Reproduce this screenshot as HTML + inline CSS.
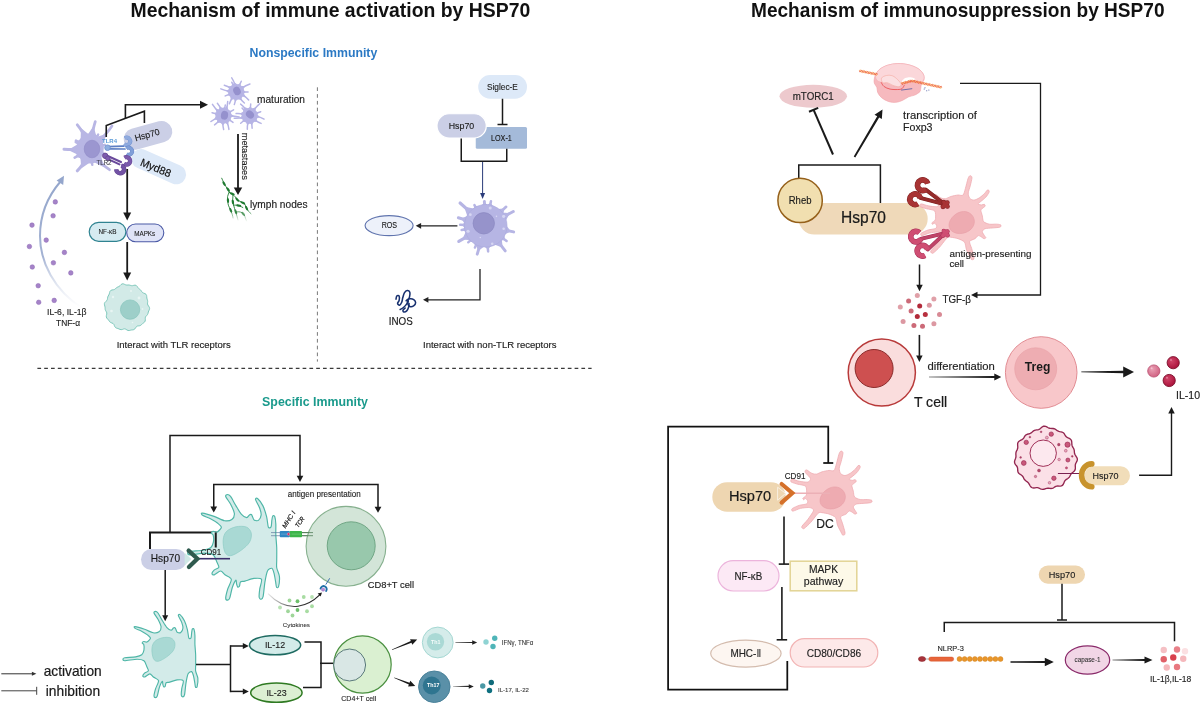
<!DOCTYPE html>
<html lang="en"><head><meta charset="utf-8"><title>HSP70 immune mechanisms</title>
<style>
html,body{margin:0;padding:0;background:#fff;}
body{width:1200px;height:704px;overflow:hidden;}
svg{display:block;font-family:"Liberation Sans","DejaVu Sans",sans-serif;will-change:transform;}
text[font-weight=bold]{stroke:none;}
</style></head><body>
<svg width="1200" height="704" viewBox="0 0 1200 704">
<rect width="1200" height="704" fill="#ffffff"/>
<text x="130.5" y="16.8" font-size="19.97" font-weight="bold" fill="#111" textLength="399.7" lengthAdjust="spacingAndGlyphs">Mechanism of immune activation by HSP70</text>
<text x="751" y="16.8" font-size="19.65" font-weight="bold" fill="#111" textLength="413.5" lengthAdjust="spacingAndGlyphs">Mechanism of immunosuppression by HSP70</text>
<text x="249.5" y="57" font-size="12.67" font-weight="bold" fill="#2b79c4" textLength="127.8" lengthAdjust="spacingAndGlyphs">Nonspecific Immunity</text>
<text x="262.1" y="406.2" font-size="12.75" font-weight="bold" fill="#1a9a8c" textLength="105.9" lengthAdjust="spacingAndGlyphs">Specific Immunity</text>
<path d="M317.4 87.3L317.4 361.6" fill="none" stroke="#6a6a6a" stroke-width="0.9" stroke-dasharray="3.7 3.1"/>
<path d="M37.4 368.4L591.6 368.4" fill="none" stroke="#3a3a3a" stroke-width="1.2" stroke-dasharray="3.7 3.1"/>
<defs><linearGradient id="gfade" gradientUnits="userSpaceOnUse" x1="0" y1="180" x2="0" y2="308"><stop offset="0" stop-color="#94a6cc"/><stop offset="0.6" stop-color="#a3b2d3"/><stop offset="1" stop-color="#d5dcec" stop-opacity="0"/></linearGradient></defs>
<path d="M82 308C54 290 40 262 40 236C40 214 48 196 60.5 181.5" fill="none" stroke="url(#gfade)" stroke-width="2"/>
<polygon points="64,175.8 63.2,185 56.6,180.6" fill="#94a6cc"/>
<circle cx="55.3" cy="201.9" r="2.3" fill="#a583c8" stroke="#8d69b5" stroke-width="0.5"/>
<circle cx="53.1" cy="215.8" r="2.3" fill="#a583c8" stroke="#8d69b5" stroke-width="0.5"/>
<circle cx="32" cy="225.1" r="2.3" fill="#a583c8" stroke="#8d69b5" stroke-width="0.5"/>
<circle cx="46.2" cy="240.1" r="2.3" fill="#a583c8" stroke="#8d69b5" stroke-width="0.5"/>
<circle cx="29.4" cy="246.5" r="2.3" fill="#a583c8" stroke="#8d69b5" stroke-width="0.5"/>
<circle cx="64.4" cy="252.4" r="2.3" fill="#a583c8" stroke="#8d69b5" stroke-width="0.5"/>
<circle cx="53.4" cy="262.8" r="2.3" fill="#a583c8" stroke="#8d69b5" stroke-width="0.5"/>
<circle cx="32.3" cy="267" r="2.3" fill="#a583c8" stroke="#8d69b5" stroke-width="0.5"/>
<circle cx="70.8" cy="272.9" r="2.3" fill="#a583c8" stroke="#8d69b5" stroke-width="0.5"/>
<circle cx="38.2" cy="285.7" r="2.3" fill="#a583c8" stroke="#8d69b5" stroke-width="0.5"/>
<circle cx="38.7" cy="302.3" r="2.3" fill="#a583c8" stroke="#8d69b5" stroke-width="0.5"/>
<circle cx="54.2" cy="300.4" r="2.3" fill="#a583c8" stroke="#8d69b5" stroke-width="0.5"/>
<text x="66.8" y="314.8" font-size="8.85" text-anchor="middle" fill="#222" stroke="#222" stroke-width="0.13" textLength="39.5" lengthAdjust="spacingAndGlyphs">IL-6, IL-1β</text>
<text x="68" y="325.6" font-size="8.76" text-anchor="middle" fill="#222" stroke="#222" stroke-width="0.13" textLength="24" lengthAdjust="spacingAndGlyphs">TNF-α</text>
<path d="M86.59 140.31Q82.02 130.39 77.3 124.87" fill="none" stroke="#b8b6e4" stroke-width="2.9" stroke-linecap="round"/>
<path d="M91.27 139.74Q93.09 128.69 95.27 121.66" fill="none" stroke="#b8b6e4" stroke-width="2.8" stroke-linecap="round"/>
<path d="M96.97 142.9Q106.72 133.96 111.99 125.98" fill="none" stroke="#b8b6e4" stroke-width="2.7" stroke-linecap="round"/>
<path d="M80.92 149.38Q70.53 149.86 64 149.2" fill="none" stroke="#b8b6e4" stroke-width="3" stroke-linecap="round"/>
<path d="M86.59 157.19Q82.17 166.34 77.25 170.83" fill="none" stroke="#b8b6e4" stroke-width="3" stroke-linecap="round"/>
<path d="M95.22 156.2Q102.52 165.36 109.51 169.67" fill="none" stroke="#b8b6e4" stroke-width="2.8" stroke-linecap="round"/>
<path d="M82.12 144.2Q77.36 141.45 75.97 140.65" fill="none" stroke="#b8b6e4" stroke-width="2.6" stroke-linecap="round"/>
<path d="M82.12 153.3Q76.71 156.43 74.67 157.6" fill="none" stroke="#b8b6e4" stroke-width="2.6" stroke-linecap="round"/>
<path d="M94.55 140.87Q97.33 136.06 98.15 134.63" fill="none" stroke="#b8b6e4" stroke-width="2.4" stroke-linecap="round"/>
<path d="M91.27 157.76Q92.04 163.26 92.27 164.89" fill="none" stroke="#b8b6e4" stroke-width="2.4" stroke-linecap="round"/>
<path d="M98.55 151.86Q103.3 153.59 104.38 153.98" fill="none" stroke="#b8b6e4" stroke-width="2.4" stroke-linecap="round"/>
<path d="M98.79 146.39Q103.67 145.09 104.78 144.79" fill="none" stroke="#b8b6e4" stroke-width="2.4" stroke-linecap="round"/>
<path d="M81.75 144.9Q76.99 142.69 75.77 142.11" fill="none" stroke="#b8b6e4" stroke-width="2.6" stroke-linecap="round"/>
<path d="M90.41 135.68L80.95 127.94L80.63 139.64ZM96.71 137.62L93.51 125.94L86.62 136.2ZM102.32 144.83L107.18 133.55L96 137.3ZM77.69 144.14L68.07 150L78.45 155.03ZM80.46 157.79L81.2 168.51L90.58 161.88ZM92.69 161.47L104.02 167.36L101.03 155.62ZM82.01 138.67L76.83 141.15L77.28 146.87ZM77.28 150.63L75.93 156.87L82.01 158.83ZM99.76 140.58L97.64 135.52L92.2 136.21ZM87.34 161.2L92.13 163.88L95.99 159.99ZM99.74 156.95L103.71 153.74L102.73 148.74ZM102.68 149.87L104.09 144.97L100.42 141.44ZM81.16 139.41L76.53 142.47L77.16 147.98Z" fill="#b8b6e4"/>
<circle cx="90" cy="148.75" r="13" fill="#b8b6e4"/>
<ellipse cx="90.3" cy="148.6" rx="13.4" ry="15" fill="#b8b6e4"/>
<ellipse cx="92" cy="149" rx="7.8" ry="8.8" fill="#9b96d0" stroke="#8f8ac6" stroke-width="0.6"/>
<g transform="rotate(-15.3 148 135.4)">
<rect x="123.2" y="124.7" width="49.6" height="21.4" rx="10.7" fill="#cbcfe6"/>
</g>
<g transform="rotate(24 158.7 166.7)">
<rect x="129.7" y="156.9" width="58" height="19.6" rx="9.8" fill="#dde9f8"/>
</g>
<text x="147.2" y="138" font-size="8.94" text-anchor="middle" fill="#1a1a1a" stroke="#1a1a1a" stroke-width="0.13" textLength="25.5" lengthAdjust="spacingAndGlyphs" transform="rotate(-15.5 147.2 134.9)">Hsp70</text>
<text x="155.8" y="171.6" font-size="10.88" text-anchor="middle" fill="#111" stroke="#111" stroke-width="0.16" textLength="32.2" lengthAdjust="spacingAndGlyphs" transform="rotate(22.3 155.8 167.8)">Myd88</text>
<path d="M108 146.7L123.5 146.2M108.5 148.9L125 149" stroke="#5f80c4" stroke-width="1.7" fill="none" stroke-linecap="round"/>
<circle cx="107.5" cy="147.7" r="2.8" fill="#8faee0" stroke="#6d8fce" stroke-width="0.8"/>
<path d="M124.8 138.08A3.6 3.6 0 1 1 124.29 143.96" stroke="#6f8fd0" stroke-width="3.9" fill="none" stroke-linecap="butt"/>
<path d="M124.69 138.15A3.6 3.6 0 1 1 124.19 143.88" stroke="#8faade" stroke-width="3.1" fill="none" stroke-linecap="butt"/>
<path d="M126.49 148.4A3.5 3.5 0 1 1 126.69 154.14" stroke="#6485c8" stroke-width="3.9" fill="none" stroke-linecap="butt"/>
<path d="M126.4 148.48A3.5 3.5 0 1 1 126.59 154.07" stroke="#809fd8" stroke-width="3.1" fill="none" stroke-linecap="butt"/>
<path d="M105.5 155L121 162M104.8 157.6L119.5 164.4" stroke="#6a4a9c" stroke-width="2" fill="none" stroke-linecap="round"/>
<circle cx="105.2" cy="155.8" r="2.7" fill="#7d5cae" stroke="#64448f" stroke-width="0.8"/>
<circle cx="107.8" cy="158.3" r="2.3" fill="#7d5cae" stroke="#64448f" stroke-width="0.6"/>
<path d="M124.55 157.7A3.7 3.7 0 1 1 124.02 163.73" stroke="#64448f" stroke-width="4.3" fill="none" stroke-linecap="butt"/>
<path d="M124.44 157.76A3.7 3.7 0 1 1 123.92 163.65" stroke="#7a5aac" stroke-width="3.5" fill="none" stroke-linecap="butt"/>
<path d="M121.34 165.57A3.9 3.9 0 1 1 116.31 169.5" stroke="#5f408a" stroke-width="4.5" fill="none" stroke-linecap="butt"/>
<path d="M121.21 165.53A3.9 3.9 0 1 1 116.3 169.37" stroke="#7252a4" stroke-width="3.7" fill="none" stroke-linecap="butt"/>
<text x="102" y="142.5" font-size="6.18" font-weight="bold" fill="#5b9bd8" textLength="15" lengthAdjust="spacingAndGlyphs">TLR4</text>
<text x="96.5" y="164.5" font-size="6.46" fill="#3a3a44" stroke="#3a3a44" stroke-width="0.09" textLength="15" lengthAdjust="spacingAndGlyphs">TLR2</text>
<path d="M106.25 137L106.25 125.6L144.4 111.25L144.4 123" fill="none" stroke="#1a1a1a" stroke-width="1.6"/>
<path d="M125.4 118.3L125.4 104.75L200.5 104.75" fill="none" stroke="#1a1a1a" stroke-width="1.6"/>
<polygon points="208,104.75 200,108.75 200,100.75" fill="#1a1a1a"/>
<path d="M127.2 169L127.2 213.1" fill="none" stroke="#1a1a1a" stroke-width="1.8"/>
<polygon points="127.2,220.6 123.2,212.6 131.2,212.6" fill="#1a1a1a"/>
<path d="M127.2 242L127.2 273" fill="none" stroke="#1a1a1a" stroke-width="1.8"/>
<polygon points="127.2,280.5 123.2,272.5 131.2,272.5" fill="#1a1a1a"/>
<rect x="89.2" y="222.4" width="36.7" height="18.9" rx="9.45" fill="#d6ebf1" stroke="#2f8391" stroke-width="1.2"/>
<rect x="126.7" y="224" width="37.1" height="17.7" rx="8.85" fill="#e0e4f7" stroke="#4b5aa6" stroke-width="1.1"/>
<text x="107.5" y="234.3" font-size="6.62" text-anchor="middle" fill="#222" stroke="#222" stroke-width="0.1" textLength="18" lengthAdjust="spacingAndGlyphs">NF-κB</text>
<text x="144.7" y="235.6" font-size="6.65" text-anchor="middle" fill="#222" stroke="#222" stroke-width="0.1" textLength="21" lengthAdjust="spacingAndGlyphs">MAPKs</text>
<path d="M149.37 307.3L149.62 308.55L149.3 309.76L148.74 310.92L148.32 312.06L148.05 313.23L147.64 314.35L146.89 315.33L146.02 316.2L145.42 317.17L145.27 318.39L145.33 319.81L145.12 321.15L144.45 322.16L143.48 322.91L142.52 323.64L141.68 324.47L140.8 325.26L139.71 325.74L138.45 325.9L137.27 326.09L136.36 326.71L135.62 327.78L134.83 328.9L133.84 329.62L132.69 329.88L131.51 329.99L130.37 330.24L129.23 330.52L128.06 330.47L126.9 329.94L125.8 329.21L124.74 328.82L123.61 328.99L122.4 329.45L121.17 329.67L120.02 329.43L118.96 328.93L117.87 328.51L116.72 328.19L115.65 327.68L114.84 326.72L114.31 325.43L113.79 324.23L113 323.44L111.89 323L110.72 322.54L109.78 321.8L109.08 320.84L108.4 319.87L107.55 318.98L106.73 318.05L106.29 316.9L106.39 315.53L106.73 314.15L106.8 312.93L106.39 311.86L105.74 310.81L105.26 309.68L105.11 308.49L105.06 307.3L104.82 306.09L104.46 304.83L104.39 303.57L104.92 302.41L105.9 301.42L106.85 300.49L107.37 299.46L107.54 298.28L107.73 297.08L108.18 296L108.79 295L109.28 293.91L109.58 292.63L109.97 291.36L110.77 290.43L111.99 289.98L113.34 289.79L114.5 289.45L115.39 288.77L116.21 287.94L117.15 287.29L118.2 286.86L119.22 286.36L120.14 285.55L121.07 284.56L122.14 283.87L123.35 283.85L124.6 284.36L125.78 284.9L126.9 285.08L128.02 285L129.14 285.01L130.23 285.3L131.3 285.63L132.44 285.66L133.72 285.36L135.04 285.13L136.21 285.43L137.11 286.34L137.84 287.49L138.61 288.44L139.52 289.14L140.43 289.82L141.18 290.71L141.8 291.72L142.55 292.56L143.64 293.13L144.93 293.6L146.02 294.31L146.59 295.41L146.74 296.73L146.83 298.02L147.13 299.18L147.52 300.29L147.7 301.47L147.59 302.7L147.52 303.88L147.85 305L148.62 306.11Z" fill="#d2eae7" stroke="#7fc9bc" stroke-width="1"/>
<circle cx="130.1" cy="309.6" r="9.7" fill="#9dcfc9" stroke="#86c4bb" stroke-width="0.7"/>
<circle cx="113" cy="297" r="1.2" fill="#e8f5f3"/>
<circle cx="139" cy="298" r="1.4" fill="#e8f5f3"/>
<circle cx="111.5" cy="311" r="1.3" fill="#e8f5f3"/>
<circle cx="131" cy="291" r="1" fill="#e8f5f3"/>
<circle cx="142.5" cy="309" r="0.9" fill="#e8f5f3"/>
<circle cx="132.5" cy="322.5" r="0.8" fill="#e8f5f3"/>
<text x="116.7" y="347.7" font-size="9.61" fill="#222" stroke="#222" stroke-width="0.14" textLength="114" lengthAdjust="spacingAndGlyphs">Interact with TLR receptors</text>
<path d="M235.33 86.39Q233.94 80.77 231.74 77.87" fill="none" stroke="#b6b4e5" stroke-width="1.5" stroke-linecap="round"/>
<path d="M238.67 86.82Q240.47 82.95 241.27 81.25" fill="none" stroke="#b6b4e5" stroke-width="1.5" stroke-linecap="round"/>
<path d="M240.89 88.69Q246.17 85.3 249.94 84.03" fill="none" stroke="#b6b4e5" stroke-width="1.5" stroke-linecap="round"/>
<path d="M241.9 91.9Q246.18 91.9 248.05 91.9" fill="none" stroke="#b6b4e5" stroke-width="1.5" stroke-linecap="round"/>
<path d="M241.38 94.27Q246.44 97.06 248.67 99.93" fill="none" stroke="#b6b4e5" stroke-width="1.5" stroke-linecap="round"/>
<path d="M239.1 96.75Q241.98 101.17 244.38 103.02" fill="none" stroke="#b6b4e5" stroke-width="1.5" stroke-linecap="round"/>
<path d="M235.81 97.48Q235.22 102.22 234.31 104.49" fill="none" stroke="#b6b4e5" stroke-width="1.5" stroke-linecap="round"/>
<path d="M233.09 96.49Q230.26 100.94 229.43 103.81" fill="none" stroke="#b6b4e5" stroke-width="1.5" stroke-linecap="round"/>
<path d="M231.04 93.82Q227.02 95.28 225.26 95.92" fill="none" stroke="#b6b4e5" stroke-width="1.5" stroke-linecap="round"/>
<path d="M230.72 91.41Q224.5 90.56 220.84 88.89" fill="none" stroke="#b6b4e5" stroke-width="1.5" stroke-linecap="round"/>
<path d="M231.71 88.69Q227.23 85.9 224.27 85.23" fill="none" stroke="#b6b4e5" stroke-width="1.5" stroke-linecap="round"/>
<path d="M233.93 86.82Q232.34 83.4 231.76 82.16" fill="none" stroke="#b6b4e5" stroke-width="1.5" stroke-linecap="round"/>
<path d="M237 84.3L234.17 81.9L233.04 85ZM241.23 86.08L240.2 83.53L237.59 84.38ZM243.48 89.32L245.08 86.03L241.18 86.03ZM243.66 93.91L245.54 91.9L243.66 89.89ZM242.12 96.83L245.41 96.54L243.82 93.19ZM238.24 99.28L241.47 100.34L241.72 97.27ZM233.66 99.06L235.3 101.42L237.66 99.41ZM230.43 96.78L230.8 100.13L233.72 99.08ZM228.7 92.53L227.62 95.06L230.07 96.31ZM229.14 89.26L225.81 90.7L228.79 93.26ZM231.42 86.03L228.05 86.44L229.12 89.32ZM235.01 84.38L232.54 83.83L231.37 86.08Z" fill="#b6b4e5"/>
<circle cx="236.3" cy="91.9" r="8" fill="#b6b4e5"/>
<ellipse cx="237.3" cy="91.3" rx="3.6" ry="4.4" fill="#9591cd" transform="rotate(-25 236.3 91.9)"/>
<path d="M225.77 110.62Q227.84 105.23 227.71 101.59" fill="none" stroke="#b6b4e5" stroke-width="1.5" stroke-linecap="round"/>
<path d="M228.25 112.9Q231.95 110.76 233.58 109.83" fill="none" stroke="#b6b4e5" stroke-width="1.5" stroke-linecap="round"/>
<path d="M229 115.7Q235.27 115.96 239.09 117.07" fill="none" stroke="#b6b4e5" stroke-width="1.5" stroke-linecap="round"/>
<path d="M227.99 118.91Q231.49 121.36 233.03 122.44" fill="none" stroke="#b6b4e5" stroke-width="1.5" stroke-linecap="round"/>
<path d="M226.2 120.55Q228.74 125.74 228.93 129.38" fill="none" stroke="#b6b4e5" stroke-width="1.5" stroke-linecap="round"/>
<path d="M222.91 121.28Q222.74 126.55 223.64 129.45" fill="none" stroke="#b6b4e5" stroke-width="1.5" stroke-linecap="round"/>
<path d="M219.8 119.99Q216.59 123.53 214.54 124.87" fill="none" stroke="#b6b4e5" stroke-width="1.5" stroke-linecap="round"/>
<path d="M218.14 117.62Q213.26 119.64 210.94 121.51" fill="none" stroke="#b6b4e5" stroke-width="1.5" stroke-linecap="round"/>
<path d="M217.99 114.25Q213.86 113.14 212.05 112.66" fill="none" stroke="#b6b4e5" stroke-width="1.5" stroke-linecap="round"/>
<path d="M219.11 112.1Q214.51 107.83 212.46 104.37" fill="none" stroke="#b6b4e5" stroke-width="1.5" stroke-linecap="round"/>
<path d="M221.48 110.44Q219.41 105.58 217.37 103.34" fill="none" stroke="#b6b4e5" stroke-width="1.5" stroke-linecap="round"/>
<path d="M224.37 110.19Q225.03 106.47 225.27 105.11" fill="none" stroke="#b6b4e5" stroke-width="1.5" stroke-linecap="round"/>
<path d="M228.33 109.88L227.4 106.29L224.69 108.18ZM230.78 113.76L231.4 111.08L228.77 110.28ZM230.76 117.71L233.95 115.93L230.76 113.69ZM228.28 121.57L230.97 121L230.58 118.28ZM225.34 123.08L228.2 124.73L228.82 121.07ZM220.76 122.86L222.8 125.58L224.76 123.21ZM217.13 120.05L217.12 122.92L220.21 122.63ZM215.8 116.33L214.18 119.29L217.17 120.11ZM216.81 111.85L214.48 113.31L215.77 115.74ZM219.05 109.43L215.49 108.7L216.47 112.51ZM222.77 108.1L219.77 106.49L218.99 109.47ZM226.66 108.8L224.95 106.93L222.7 108.1Z" fill="#b6b4e5"/>
<circle cx="223.4" cy="115.7" r="8" fill="#b6b4e5"/>
<ellipse cx="224.4" cy="115.1" rx="3.6" ry="4.4" fill="#9591cd" transform="rotate(10 223.4 115.7)"/>
<path d="M246.9 110.85Q243.67 106.05 240.62 104.08" fill="none" stroke="#b6b4e5" stroke-width="1.5" stroke-linecap="round"/>
<path d="M250.19 110.12Q250.56 105.86 250.72 103.99" fill="none" stroke="#b6b4e5" stroke-width="1.5" stroke-linecap="round"/>
<path d="M252.91 111.11Q256.72 106.12 259.82 103.63" fill="none" stroke="#b6b4e5" stroke-width="1.5" stroke-linecap="round"/>
<path d="M254.96 113.78Q258.98 112.32 260.74 111.68" fill="none" stroke="#b6b4e5" stroke-width="1.5" stroke-linecap="round"/>
<path d="M255.28 116.19Q260.99 117.09 264.07 119.02" fill="none" stroke="#b6b4e5" stroke-width="1.5" stroke-linecap="round"/>
<path d="M253.99 119.3Q258.21 122.47 261.1 123.39" fill="none" stroke="#b6b4e5" stroke-width="1.5" stroke-linecap="round"/>
<path d="M251.15 121.11Q252.21 125.77 252.13 128.22" fill="none" stroke="#b6b4e5" stroke-width="1.5" stroke-linecap="round"/>
<path d="M248.25 121.11Q247.12 126.26 247.31 129.24" fill="none" stroke="#b6b4e5" stroke-width="1.5" stroke-linecap="round"/>
<path d="M245.41 119.3Q242.14 122.05 240.7 123.25" fill="none" stroke="#b6b4e5" stroke-width="1.5" stroke-linecap="round"/>
<path d="M244.29 117.15Q238.15 118.47 234.14 118.16" fill="none" stroke="#b6b4e5" stroke-width="1.5" stroke-linecap="round"/>
<path d="M244.29 114.25Q239.13 113.16 236.12 113.55" fill="none" stroke="#b6b4e5" stroke-width="1.5" stroke-linecap="round"/>
<path d="M245.74 111.74Q243.07 109.07 242.1 108.1" fill="none" stroke="#b6b4e5" stroke-width="1.5" stroke-linecap="round"/>
<path d="M247.76 108.32L244.28 107.03L244.28 110.33ZM252.34 108.54L250.51 106.5L248.34 108.19ZM255.57 110.82L255.94 107.19L252.28 108.52ZM257.3 115.07L258.38 112.54L255.93 111.29ZM256.86 118.34L259.85 116.95L257.21 114.34ZM254.05 121.97L257.45 121.86L256.63 118.89ZM249.66 123.33L252.01 124.98L253.55 122.29ZM245.85 122.29L247.35 125.31L249.74 123.33ZM242.77 118.89L242.62 121.64L245.35 121.97ZM242.07 115.66L239.43 118.16L243.11 119.55ZM243.11 111.85L240.08 113.39L242.07 115.74ZM245.92 109.07L243.4 109.4L243.07 111.92Z" fill="#b6b4e5"/>
<circle cx="249.7" cy="115.7" r="8" fill="#b6b4e5"/>
<ellipse cx="250.7" cy="115.1" rx="3.6" ry="4.4" fill="#9591cd" transform="rotate(-45 249.7 115.7)"/>
<text x="257" y="102.6" font-size="10.16" fill="#222" stroke="#222" stroke-width="0.15" textLength="48" lengthAdjust="spacingAndGlyphs">maturation</text>
<path d="M238 134L238 188" fill="none" stroke="#1a1a1a" stroke-width="1.8"/>
<polygon points="238,195 233.75,187.5 242.25,187.5" fill="#1a1a1a"/>
<text x="241.5" y="132.8" font-size="9.19" fill="#222" stroke="#222" stroke-width="0.13" textLength="47" lengthAdjust="spacingAndGlyphs" transform="rotate(90 241.5 132.8)">metastases</text>
<text x="250" y="207.5" font-size="10.14" fill="#222" stroke="#222" stroke-width="0.15" textLength="57.5" lengthAdjust="spacingAndGlyphs">lymph nodes</text>
<defs><linearGradient id="lfade" gradientUnits="userSpaceOnUse" x1="0" y1="178" x2="0" y2="222"><stop offset="0" stop-color="#1e7a30"/><stop offset="0.7" stop-color="#1e7a30"/><stop offset="1" stop-color="#1e7a30" stop-opacity="0"/></linearGradient></defs>
<path d="M221.72 178.2C222.17 179.18 223.48 182.24 224.45 184.06C225.43 185.89 226.73 187.71 227.58 189.14C228.42 190.57 229.21 192.07 229.53 192.66" fill="none" stroke="url(#lfade)" stroke-width="0.9" stroke-linecap="round"/>
<path d="M229.14 192.27C228.88 192.98 227.8 195.07 227.58 196.56C227.36 198.06 227.68 199.82 227.81 201.25C227.94 202.68 227.92 203.72 228.36 205.16C228.8 206.59 229.82 208.28 230.47 209.84C231.12 211.41 231.84 213.16 232.27 214.53C232.7 215.9 232.92 217.46 233.05 218.05" fill="none" stroke="url(#lfade)" stroke-width="0.9" stroke-linecap="round"/>
<path d="M229.53 192.66C230.05 192.92 232.11 193.31 232.66 194.22C233.2 195.13 232.81 196.95 232.81 198.12C232.81 199.3 232.49 199.95 232.66 201.25C232.83 202.55 233.37 204.24 233.83 205.94C234.28 207.63 234.87 209.71 235.39 211.41C235.91 213.1 236.52 214.66 236.95 216.09C237.38 217.53 237.8 219.35 237.97 220" fill="none" stroke="url(#lfade)" stroke-width="0.9" stroke-linecap="round"/>
<path d="M232.66 194.22C233.11 194.67 234.61 196.04 235.39 196.95C236.17 197.86 236.37 198.84 237.34 199.69C238.32 200.53 240.08 201.38 241.25 202.03C242.42 202.68 243.53 202.68 244.38 203.59C245.22 204.51 245.61 206.2 246.33 207.5C247.04 208.8 247.89 210.36 248.67 211.41C249.45 212.45 250.62 213.36 251.02 213.75" fill="none" stroke="url(#lfade)" stroke-width="0.9" stroke-linecap="round"/>
<path d="M233.44 205.16C233.96 205.16 235.59 205.05 236.56 205.16C237.54 205.26 238.26 205.39 239.3 205.78C240.34 206.17 242.23 207.21 242.81 207.5" fill="none" stroke="url(#lfade)" stroke-width="0.9" stroke-linecap="round"/>
<path d="M235.78 212.19C236.3 212.12 237.86 211.69 238.91 211.8C239.95 211.9 241.12 212.23 242.03 212.81C242.94 213.4 243.79 214.38 244.38 215.31C244.96 216.25 245.18 217.46 245.55 218.44C245.91 219.41 246.39 220.72 246.56 221.17" fill="none" stroke="url(#lfade)" stroke-width="0.9" stroke-linecap="round"/>
<ellipse cx="224.06" cy="183.67" rx="2.6" ry="1.15" fill="url(#lfade)" transform="rotate(60 224.06 183.67)"/>
<ellipse cx="228.12" cy="189.53" rx="2.6" ry="1.15" fill="url(#lfade)" transform="rotate(55 228.12 189.53)"/>
<ellipse cx="227.97" cy="200.47" rx="2.6" ry="1.15" fill="url(#lfade)" transform="rotate(85 227.97 200.47)"/>
<ellipse cx="230.7" cy="210.23" rx="2.6" ry="1.15" fill="url(#lfade)" transform="rotate(65 230.7 210.23)"/>
<ellipse cx="232.89" cy="202.03" rx="2.6" ry="1.15" fill="url(#lfade)" transform="rotate(80 232.89 202.03)"/>
<ellipse cx="235.78" cy="211.8" rx="2.6" ry="1.15" fill="url(#lfade)" transform="rotate(70 235.78 211.8)"/>
<ellipse cx="237.34" cy="199.69" rx="2.6" ry="1.15" fill="url(#lfade)" transform="rotate(45 237.34 199.69)"/>
<ellipse cx="242.81" cy="202.81" rx="2.6" ry="1.15" fill="url(#lfade)" transform="rotate(25 242.81 202.81)"/>
<ellipse cx="246.56" cy="208.12" rx="2.6" ry="1.15" fill="url(#lfade)" transform="rotate(65 246.56 208.12)"/>
<ellipse cx="238.75" cy="205.55" rx="2.6" ry="1.15" fill="url(#lfade)" transform="rotate(8 238.75 205.55)"/>
<ellipse cx="243.2" cy="213.91" rx="2.6" ry="1.15" fill="url(#lfade)" transform="rotate(50 243.2 213.91)"/>
<ellipse cx="232.27" cy="193.83" rx="2.6" ry="1.15" fill="url(#lfade)" transform="rotate(20 232.27 193.83)"/>
<rect x="478.25" y="75" width="48.75" height="23.75" rx="11.88" fill="#dde9f8"/>
<text x="502.4" y="89.7" font-size="8.42" text-anchor="middle" fill="#222" stroke="#222" stroke-width="0.12" textLength="30.8" lengthAdjust="spacingAndGlyphs">Siglec-E</text>
<path d="M502.5 98.75L502.5 124.5" fill="none" stroke="#1a1a1a" stroke-width="1.5"/>
<path d="M497.5 124.5L507.5 124.5" fill="none" stroke="#1a1a1a" stroke-width="1.5"/>
<rect x="475.75" y="127" width="51.25" height="21.75" rx="1.5" fill="#a4bad9"/>
<text x="501.4" y="140.5" font-size="8.2" text-anchor="middle" fill="#1a1a1a" stroke="#1a1a1a" stroke-width="0.12" textLength="20.8" lengthAdjust="spacingAndGlyphs">LOX-1</text>
<rect x="437" y="113.75" width="49.25" height="24.25" rx="12.12" fill="#cbcfe6" stroke="#ffffff" stroke-width="1.2"/>
<text x="461.5" y="129.3" font-size="8.94" text-anchor="middle" fill="#222" stroke="#222" stroke-width="0.13" textLength="25.5" lengthAdjust="spacingAndGlyphs">Hsp70</text>
<path d="M461.25 138.5L461.25 161.25L506.75 161.25L506.75 148.75" fill="none" stroke="#1a1a1a" stroke-width="1.5"/>
<path d="M482.6 162L482.6 193.4" fill="none" stroke="#2b3c7a" stroke-width="1"/>
<polygon points="482.6,198.9 480.1,192.9 485.1,192.9" fill="#2b3c7a"/>
<ellipse cx="389.1" cy="225.6" rx="24" ry="10" fill="#edf1fa" stroke="#6074ae" stroke-width="1.1"/>
<text x="389.4" y="228.2" font-size="8.3" text-anchor="middle" fill="#1a1a1a" stroke="#1a1a1a" stroke-width="0.12" textLength="15.4" lengthAdjust="spacingAndGlyphs">ROS</text>
<path d="M457.4 225.8L420.6 225.8" fill="none" stroke="#222" stroke-width="1.3"/>
<polygon points="415.7,225.8 421.1,222.95 421.1,228.65" fill="#222"/>
<path d="M474.61 215.88Q464.96 207.3 460.09 202.97" fill="none" stroke="#b6b5e4" stroke-width="3.14" stroke-linecap="round"/>
<path d="M478.62 212.7Q475 206.06 474.44 205.03" fill="none" stroke="#b6b5e4" stroke-width="2.55" stroke-linecap="round"/>
<path d="M484.9 210.9Q484.44 202.96 484.35 201.41" fill="none" stroke="#b6b5e4" stroke-width="2.94" stroke-linecap="round"/>
<path d="M488.84 211.2Q490.56 203.07 490.96 201.19" fill="none" stroke="#b6b5e4" stroke-width="2.55" stroke-linecap="round"/>
<path d="M496.67 215.63Q503.74 209.06 506.12 206.84" fill="none" stroke="#b6b5e4" stroke-width="2.74" stroke-linecap="round"/>
<path d="M499 218.94Q508.98 213.77 513.28 211.55" fill="none" stroke="#b6b5e4" stroke-width="2.94" stroke-linecap="round"/>
<path d="M500.32 228.99Q510.1 231.15 513.64 231.93" fill="none" stroke="#b6b5e4" stroke-width="2.94" stroke-linecap="round"/>
<path d="M497.81 234.55Q504.79 239.63 506.59 240.94" fill="none" stroke="#b6b5e4" stroke-width="2.55" stroke-linecap="round"/>
<path d="M494.88 237.58Q502.01 246.8 505.23 250.96" fill="none" stroke="#b6b5e4" stroke-width="2.94" stroke-linecap="round"/>
<path d="M487.13 240.63Q487.92 249.18 488.12 251.36" fill="none" stroke="#b6b5e4" stroke-width="2.55" stroke-linecap="round"/>
<path d="M481.47 240.07Q478.43 250.19 477.23 254.2" fill="none" stroke="#b6b5e4" stroke-width="2.94" stroke-linecap="round"/>
<path d="M479.09 239.12Q475.54 246.22 474.85 247.6" fill="none" stroke="#b6b5e4" stroke-width="2.35" stroke-linecap="round"/>
<path d="M474.92 236.03Q469.25 241.4 468.22 242.37" fill="none" stroke="#b6b5e4" stroke-width="2.35" stroke-linecap="round"/>
<path d="M472.85 233.26Q463.05 238.93 458.78 241.4" fill="none" stroke="#b6b5e4" stroke-width="3.14" stroke-linecap="round"/>
<path d="M471.07 228.38Q463.22 229.76 461.66 230.04" fill="none" stroke="#b6b5e4" stroke-width="2.55" stroke-linecap="round"/>
<path d="M470.86 225.23Q462.33 224.92 460.19 224.84" fill="none" stroke="#b6b5e4" stroke-width="2.55" stroke-linecap="round"/>
<path d="M471.45 221.59Q461.83 218.77 458.34 217.75" fill="none" stroke="#b6b5e4" stroke-width="2.94" stroke-linecap="round"/>
<path d="M474.65 208.78L463.99 206.44L467.57 216.75ZM480.17 206.51L474.88 205.86L472.57 210.66ZM489.62 205.93L484.42 202.65L479.64 206.51ZM494.05 207.51L490.64 202.69L485.57 205.72ZM503.28 215.85L504.21 208.61L496.93 209.02ZM505.46 221.22L509.84 213.33L500.86 212.34ZM503.82 234.88L510.81 231.31L505.97 225.12ZM499.06 240.81L505.15 239.89L504.15 233.81ZM493.79 244.34L502.66 247.63L501.7 238.23ZM483.25 245.7L487.96 249.61L491.88 244.9ZM475.34 243.12L478.19 250.99L484.91 245.99ZM473.42 241.52L475.4 246.49L480.57 245.1ZM468.77 236.35L469.04 241.59L474.27 242.16ZM466.13 230.99L462.2 239.42L471.47 240.22ZM465.7 224.93L462.91 229.82L467.21 233.46ZM466.33 220.73L461.9 224.9L466.01 229.39ZM468.36 215.48L461.13 218.57L465.54 225.07Z" fill="#b6b5e4"/>
<circle cx="485.76" cy="225.79" r="21.3" fill="#b6b5e4"/>
<circle cx="485.76" cy="225.79" r="21.3" fill="none" stroke="#aaa9dd" stroke-width="0.6"/>
<circle cx="483.77" cy="223.3" r="10.7" fill="#9693cb" stroke="#8b88c1" stroke-width="0.7"/>
<circle cx="490.23" cy="207.89" r="1.5" fill="#d6d6f2"/>
<circle cx="470.35" cy="214.65" r="1.4" fill="#d6d6f2"/>
<circle cx="503.65" cy="216.34" r="1.6" fill="#d6d6f2"/>
<circle cx="503.65" cy="228.77" r="1.3" fill="#d6d6f2"/>
<circle cx="468.06" cy="231.25" r="1.6" fill="#d6d6f2"/>
<circle cx="492.22" cy="243.68" r="1.3" fill="#d6d6f2"/>
<circle cx="480.29" cy="237.51" r="0.8" fill="#d6d6f2"/>
<circle cx="496.49" cy="216.34" r="0.8" fill="#d6d6f2"/>
<path d="M480 269L480 299.8L427.9 299.8" fill="none" stroke="#222" stroke-width="1.3"/>
<polygon points="423,299.8 428.4,296.95 428.4,302.65" fill="#222"/>
<path d="M396.02 299.14C396.15 298.62 396.28 296.54 396.8 296.02C397.32 295.49 398.75 295.3 399.14 296.02C399.53 296.73 399.4 299.08 399.14 300.31C398.88 301.55 397.51 302.63 397.58 303.44C397.64 304.24 398.84 305.35 399.53 305.16C400.22 304.96 401.17 303.53 401.72 302.27C402.27 301 402.37 299.14 402.81 297.58C403.26 296.02 403.65 294.06 404.38 292.89C405.1 291.72 406.28 290.64 407.19 290.55C408.1 290.46 409.45 291.3 409.84 292.34C410.23 293.39 409.84 295.4 409.53 296.8C409.22 298.19 408.49 299.44 407.97 300.7C407.45 301.97 407.16 303.24 406.41 304.38C405.65 305.51 404.48 306.64 403.44 307.5C402.4 308.36 400.7 309.19 400.16 309.53" fill="none" stroke="#17306f" stroke-width="1.55" stroke-linecap="round"/>
<path d="M406.17 300.7C406.41 300.34 408.42 298.95 409.69 298.75C410.95 298.55 412.76 298.85 413.75 299.53C414.74 300.21 415.65 301.74 415.62 302.81C415.6 303.88 414.56 305.31 413.59 305.94C412.63 306.56 410.81 306.91 409.84 306.56C408.88 306.21 408.07 304.77 407.81 303.83C407.55 302.89 408.55 301.46 408.28 300.94C408.01 300.42 405.94 301.07 406.17 300.7Z" fill="none" stroke="#17306f" stroke-width="1.55" stroke-linecap="round"/>
<path d="M409.06 303.44C408.98 304.09 408.98 306.11 408.59 307.34C408.2 308.58 407.5 310.08 406.72 310.86C405.94 311.64 404.53 312.15 403.91 312.03C403.28 311.91 402.76 310.83 402.97 310.16C403.18 309.48 404.79 308.33 405.16 307.97" fill="none" stroke="#17306f" stroke-width="1.55" stroke-linecap="round"/>
<text x="400.8" y="324.9" font-size="10.5" text-anchor="middle" fill="#1a1a1a" stroke="#1a1a1a" stroke-width="0.15" textLength="24" lengthAdjust="spacingAndGlyphs">INOS</text>
<text x="423" y="347.7" font-size="9.62" fill="#222" stroke="#222" stroke-width="0.14" textLength="133.5" lengthAdjust="spacingAndGlyphs">Interact with non-TLR receptors</text>
<path d="M170 532L170 435.5L300 435.5L300 476.2" fill="none" stroke="#1a1a1a" stroke-width="1.5"/>
<polygon points="300,481.9 296.7,475.7 303.3,475.7" fill="#1a1a1a"/>
<path d="M213.75 507L213.75 484.5L378 484.5L378 507" fill="none" stroke="#1a1a1a" stroke-width="1.5"/>
<polygon points="213.75,512.6 210.4,506.6 217.1,506.6" fill="#1a1a1a"/><polygon points="378,512.8 374.6,506.8 381.4,506.8" fill="#1a1a1a"/>
<text x="287.8" y="496.5" font-size="8.5" fill="#222" stroke="#222" stroke-width="0.12" textLength="72.9" lengthAdjust="spacingAndGlyphs">antigen presentation</text>
<path d="M150 549L150 532.5L215.75 532.5L215.75 547.5" fill="none" stroke="#1a1a1a" stroke-width="2"/>
<g transform="translate(226.8 495) scale(1.225) translate(-154.9 -611.8)"><path d="M134.94 626.59C136.26 626.71 142 628.38 144.54 629.25C147.09 630.12 151.08 632.44 153.11 632.79C155.14 633.14 157.9 632.58 159.02 631.76C160.13 630.93 161.21 628.6 161.09 626.88C160.96 625.17 159.12 621.44 158.13 619.5C157.14 617.55 154.37 614.14 154 613C153.62 611.86 154.91 611.37 155.47 611.37C156.03 611.37 157.01 611.7 157.98 613C158.96 614.3 161.19 618.67 162.42 620.68C163.64 622.69 165.48 625.98 166.7 627.33C167.92 628.67 170.2 630.18 171.13 630.28C172.06 630.38 172.81 628.42 173.35 628.06C173.88 627.71 174.6 627.54 174.97 627.77C175.34 628 175.69 629.07 176 629.69C176.31 630.31 176.52 631.81 177.19 632.2C177.85 632.59 179.92 633.08 180.73 632.5C181.54 631.92 182.82 629.51 182.95 628.06C183.07 626.62 182.26 623.89 181.62 622.16C180.98 620.42 178.6 616.71 178.37 615.66C178.14 614.6 179.14 613.92 179.99 614.62C180.84 615.33 183.39 618.59 184.42 620.68C185.46 622.77 186.76 627.1 187.38 629.54C188 631.98 188.34 636.97 188.86 638.11C189.37 639.25 190.68 638.45 191.07 637.67C191.46 636.88 191.48 633.72 191.66 632.5C191.85 631.28 192.07 629.39 192.4 628.95C192.73 628.52 193.67 628.48 194.03 629.39C194.38 630.3 194.79 633.36 194.91 635.45C195.04 637.54 194.81 641.62 194.91 644.31C195.01 647 195.55 651.76 195.65 654.65C195.75 657.55 195.65 662.68 195.65 664.99C195.65 667.31 195.34 669.34 195.65 671.2C195.96 673.06 197.66 676.14 197.87 678.29C198.07 680.44 197.46 685.32 197.13 686.56C196.8 687.8 195.83 687.69 195.5 687.15C195.17 686.61 195.05 684.33 194.76 682.72C194.47 681.1 193.87 677.18 193.43 675.63C193 674.08 192.41 671.89 191.66 671.64C190.92 671.39 188.9 672.3 188.12 673.86C187.33 675.41 186.55 679.82 186.05 682.72C185.55 685.61 185.01 692.55 184.57 694.53C184.14 696.52 183.4 696.79 182.95 696.9C182.49 697 181.49 696.43 181.32 695.27C181.16 694.12 181.5 690.67 181.77 688.63C182.03 686.58 183.9 681.87 183.24 680.65C182.58 679.43 178.94 679.7 177.04 679.91C175.14 680.12 171.18 681.73 169.65 682.13C168.12 682.52 166.73 682.14 166.11 682.72C165.49 683.3 165.55 685.68 165.22 686.26C164.89 686.84 164.08 687.12 163.74 686.85C163.41 686.58 163.06 685.11 162.86 684.34C162.65 683.58 162.74 681 162.27 681.39C161.79 681.78 160.16 685.1 159.46 687.15C158.76 689.2 157.78 694.54 157.25 696.01C156.71 697.48 156.08 697.64 155.62 697.64C155.17 697.64 154 697.27 154 696.01C154 694.75 154.98 690.78 155.62 688.63C156.26 686.48 158.88 682.28 158.57 680.65C158.26 679.02 154.62 677.91 153.4 676.96C152.18 676.01 151.08 673.86 149.86 673.86C148.64 673.86 145.68 676.65 144.69 676.96C143.7 677.27 142.79 676.61 142.77 676.07C142.75 675.53 143.76 673.84 144.54 673.12C145.33 672.39 148.07 671.83 148.38 670.9C148.69 669.97 147.38 667.9 146.76 666.47C146.14 665.04 145.3 661.72 143.95 660.71C142.61 659.7 139.84 659.23 137.16 659.23C134.47 659.23 126.73 660.73 124.75 660.71C122.76 660.69 122.98 659.5 122.98 659.08C122.98 658.67 122.97 658.06 124.75 657.75C126.53 657.44 133.3 657.28 135.68 656.87C138.06 656.45 140.58 655.73 141.74 654.8C142.89 653.87 143.66 651.65 143.95 650.22C144.24 648.79 144.05 645.62 143.8 644.61C143.56 643.6 142.18 643.42 142.18 642.98C142.18 642.55 143.14 641.63 143.8 641.51C144.47 641.38 145.97 642.55 146.91 642.1C147.84 641.64 150.37 639.27 150.45 638.26C150.53 637.24 148.74 635.85 147.5 634.86C146.26 633.87 143.32 632.08 141.59 631.17C139.85 630.26 136.02 629 135.09 628.36C134.16 627.72 133.62 626.46 134.94 626.59Z" fill="#d3ebe9" stroke="#4fb6a7" stroke-width="0.95" stroke-linejoin="round"/><path d="M151.93 648.74C152.12 645.94 152.86 643.48 154.59 641.65C156.31 639.83 159.56 638.43 162.27 637.81C164.98 637.2 168.74 637.12 170.83 637.96C172.93 638.8 174.38 640.79 174.82 642.84C175.27 644.88 174.85 647.88 173.49 650.22C172.14 652.56 169.26 655.02 166.7 656.87C164.14 658.71 160.35 661.03 158.13 661.3C155.92 661.57 154.44 660.59 153.4 658.49C152.37 656.4 151.73 651.55 151.93 648.74Z" fill="#a9d9d4" stroke="#8fcdc6" stroke-width="0.6"/></g>
<rect x="141" y="549" width="45.6" height="21" rx="10.5" fill="#cbcfe6"/>
<polygon points="184.6,552.8 191.4,558.9 184.6,565.4" fill="#cfe8e6"/>
<text x="165.4" y="562.2" font-size="10.28" text-anchor="middle" fill="#1a1a1a" stroke="#1a1a1a" stroke-width="0.15" textLength="29.3" lengthAdjust="spacingAndGlyphs">Hsp70</text>
<path d="M198 558.7L230 558.7" fill="none" stroke="#3b2f6b" stroke-width="1.6"/>
<path d="M188.6 550.6L197.4 558.7L188.9 567" fill="none" stroke="#2f5a4e" stroke-width="4.2" stroke-linecap="round" stroke-linejoin="miter"/>
<text x="200.8" y="555.2" font-size="8.26" fill="#1a1a1a" stroke="#1a1a1a" stroke-width="0.12" textLength="20.4" lengthAdjust="spacingAndGlyphs">CD91</text>
<path d="M215.75 532.5L215.75 547.5" fill="none" stroke="#1a1a1a" stroke-width="2"/>
<path d="M271 532.6L280 532.6" fill="none" stroke="#5a789c" stroke-width="0.7"/>
<path d="M271 535.7L280 535.7" fill="none" stroke="#5a789c" stroke-width="0.7"/>
<path d="M302 532.6L313 532.6" fill="none" stroke="#3f6f45" stroke-width="0.7"/>
<path d="M302 535.7L313 535.7" fill="none" stroke="#3f6f45" stroke-width="0.7"/>
<rect x="279.8" y="530.9" width="10" height="6.4" rx="0.8" fill="#2f86c2"/><rect x="289.6" y="530.9" width="12.4" height="6.4" rx="0.8" fill="#3db54a"/>
<path d="M281 534.1L287 534.1" fill="none" stroke="#7ab0d8" stroke-width="0.6"/>
<path d="M291.5 534.1L301 534.1" fill="none" stroke="#7fd088" stroke-width="0.6"/>
<circle cx="288.5" cy="534.1" r="1.3" fill="#e0245e" stroke="#f7c3d3" stroke-width="0.4"/>
<text x="285.6" y="528.8" font-size="6.4" font-style="italic" fill="#1a1a1a" stroke="#1a1a1a" stroke-width="0.22" textLength="19" lengthAdjust="spacingAndGlyphs" transform="rotate(-58 285.6 528.8)">MHC I</text>
<text x="298.2" y="528" font-size="6.4" font-style="italic" fill="#1a1a1a" stroke="#1a1a1a" stroke-width="0.22" textLength="11.4" lengthAdjust="spacingAndGlyphs" transform="rotate(-54 298.2 528)">TCR</text>
<circle cx="346" cy="546.3" r="39.9" fill="#d3e5d8" stroke="#86b08e" stroke-width="1.1"/>
<circle cx="351.2" cy="545.8" r="24" fill="#98c8ac" stroke="#69a07e" stroke-width="0.9"/>
<path d="M302 532.6L313 532.6" fill="none" stroke="#3f6f45" stroke-width="0.7"/>
<path d="M302 535.7L313 535.7" fill="none" stroke="#3f6f45" stroke-width="0.7"/>
<text x="367.7" y="588.4" font-size="9.54" fill="#1a1a1a" stroke="#1a1a1a" stroke-width="0.14" textLength="46.3" lengthAdjust="spacingAndGlyphs">CD8+T cell</text>
<defs><linearGradient id="cfade" gradientUnits="userSpaceOnUse" x1="268" y1="0" x2="325" y2="0"><stop offset="0" stop-color="#333" stop-opacity="0.1"/><stop offset="0.5" stop-color="#333"/><stop offset="1" stop-color="#222"/></linearGradient></defs>
<path d="M268 593.7C277 603 288 607.5 298 606.2C307 605 314.5 600 320 594.6" fill="none" stroke="url(#cfade)" stroke-width="1.15"/>
<polygon points="322,592.6 320.6,596.6 317.6,593.6" fill="#1a1a1a"/>
<circle cx="289.5" cy="600.5" r="1.9" fill="#9fd69a"/>
<circle cx="297.5" cy="601.25" r="1.9" fill="#6fbf6c"/>
<circle cx="303.75" cy="597" r="1.9" fill="#a8dca2"/>
<circle cx="312" cy="597" r="1.9" fill="#b8e2b3"/>
<circle cx="280" cy="607.5" r="1.9" fill="#b8e2b3"/>
<circle cx="288" cy="611.25" r="1.9" fill="#9fd69a"/>
<circle cx="297.5" cy="610" r="1.9" fill="#6fbf6c"/>
<circle cx="307" cy="611.25" r="1.9" fill="#a8dca2"/>
<circle cx="312" cy="606.25" r="1.9" fill="#a8dca2"/>
<circle cx="292.5" cy="615.5" r="1.9" fill="#9fd69a"/>
<text x="296.4" y="627.3" font-size="6.22" text-anchor="middle" fill="#333" stroke="#333" stroke-width="0.09" textLength="27.1" lengthAdjust="spacingAndGlyphs">Cytokines</text>
<path d="M325.8 584.6L329.7 578.3" fill="none" stroke="#2a5fa8" stroke-width="0.9"/>
<path d="M320.55 588.66A3.1 3.1 0 1 1 326.17 590.93" stroke="#1f6fa8" stroke-width="1.9" fill="none" stroke-linecap="round"/>
<circle cx="323.1" cy="589.6" r="1.7" fill="#b58ad6" stroke="#8a5fb8" stroke-width="0.4"/>
<path d="M165.2 570L165.2 615.8" fill="none" stroke="#1a1a1a" stroke-width="1.5"/>
<polygon points="165.2,621.3 162.2,615.3 168.2,615.3" fill="#1a1a1a"/>
<g><path d="M134.94 626.59C136.26 626.71 142 628.38 144.54 629.25C147.09 630.12 151.08 632.44 153.11 632.79C155.14 633.14 157.9 632.58 159.02 631.76C160.13 630.93 161.21 628.6 161.09 626.88C160.96 625.17 159.12 621.44 158.13 619.5C157.14 617.55 154.37 614.14 154 613C153.62 611.86 154.91 611.37 155.47 611.37C156.03 611.37 157.01 611.7 157.98 613C158.96 614.3 161.19 618.67 162.42 620.68C163.64 622.69 165.48 625.98 166.7 627.33C167.92 628.67 170.2 630.18 171.13 630.28C172.06 630.38 172.81 628.42 173.35 628.06C173.88 627.71 174.6 627.54 174.97 627.77C175.34 628 175.69 629.07 176 629.69C176.31 630.31 176.52 631.81 177.19 632.2C177.85 632.59 179.92 633.08 180.73 632.5C181.54 631.92 182.82 629.51 182.95 628.06C183.07 626.62 182.26 623.89 181.62 622.16C180.98 620.42 178.6 616.71 178.37 615.66C178.14 614.6 179.14 613.92 179.99 614.62C180.84 615.33 183.39 618.59 184.42 620.68C185.46 622.77 186.76 627.1 187.38 629.54C188 631.98 188.34 636.97 188.86 638.11C189.37 639.25 190.68 638.45 191.07 637.67C191.46 636.88 191.48 633.72 191.66 632.5C191.85 631.28 192.07 629.39 192.4 628.95C192.73 628.52 193.67 628.48 194.03 629.39C194.38 630.3 194.79 633.36 194.91 635.45C195.04 637.54 194.81 641.62 194.91 644.31C195.01 647 195.55 651.76 195.65 654.65C195.75 657.55 195.65 662.68 195.65 664.99C195.65 667.31 195.34 669.34 195.65 671.2C195.96 673.06 197.66 676.14 197.87 678.29C198.07 680.44 197.46 685.32 197.13 686.56C196.8 687.8 195.83 687.69 195.5 687.15C195.17 686.61 195.05 684.33 194.76 682.72C194.47 681.1 193.87 677.18 193.43 675.63C193 674.08 192.41 671.89 191.66 671.64C190.92 671.39 188.9 672.3 188.12 673.86C187.33 675.41 186.55 679.82 186.05 682.72C185.55 685.61 185.01 692.55 184.57 694.53C184.14 696.52 183.4 696.79 182.95 696.9C182.49 697 181.49 696.43 181.32 695.27C181.16 694.12 181.5 690.67 181.77 688.63C182.03 686.58 183.9 681.87 183.24 680.65C182.58 679.43 178.94 679.7 177.04 679.91C175.14 680.12 171.18 681.73 169.65 682.13C168.12 682.52 166.73 682.14 166.11 682.72C165.49 683.3 165.55 685.68 165.22 686.26C164.89 686.84 164.08 687.12 163.74 686.85C163.41 686.58 163.06 685.11 162.86 684.34C162.65 683.58 162.74 681 162.27 681.39C161.79 681.78 160.16 685.1 159.46 687.15C158.76 689.2 157.78 694.54 157.25 696.01C156.71 697.48 156.08 697.64 155.62 697.64C155.17 697.64 154 697.27 154 696.01C154 694.75 154.98 690.78 155.62 688.63C156.26 686.48 158.88 682.28 158.57 680.65C158.26 679.02 154.62 677.91 153.4 676.96C152.18 676.01 151.08 673.86 149.86 673.86C148.64 673.86 145.68 676.65 144.69 676.96C143.7 677.27 142.79 676.61 142.77 676.07C142.75 675.53 143.76 673.84 144.54 673.12C145.33 672.39 148.07 671.83 148.38 670.9C148.69 669.97 147.38 667.9 146.76 666.47C146.14 665.04 145.3 661.72 143.95 660.71C142.61 659.7 139.84 659.23 137.16 659.23C134.47 659.23 126.73 660.73 124.75 660.71C122.76 660.69 122.98 659.5 122.98 659.08C122.98 658.67 122.97 658.06 124.75 657.75C126.53 657.44 133.3 657.28 135.68 656.87C138.06 656.45 140.58 655.73 141.74 654.8C142.89 653.87 143.66 651.65 143.95 650.22C144.24 648.79 144.05 645.62 143.8 644.61C143.56 643.6 142.18 643.42 142.18 642.98C142.18 642.55 143.14 641.63 143.8 641.51C144.47 641.38 145.97 642.55 146.91 642.1C147.84 641.64 150.37 639.27 150.45 638.26C150.53 637.24 148.74 635.85 147.5 634.86C146.26 633.87 143.32 632.08 141.59 631.17C139.85 630.26 136.02 629 135.09 628.36C134.16 627.72 133.62 626.46 134.94 626.59Z" fill="#d3ebe9" stroke="#4fb6a7" stroke-width="1.15" stroke-linejoin="round"/><path d="M151.93 648.74C152.12 645.94 152.86 643.48 154.59 641.65C156.31 639.83 159.56 638.43 162.27 637.81C164.98 637.2 168.74 637.12 170.83 637.96C172.93 638.8 174.38 640.79 174.82 642.84C175.27 644.88 174.85 647.88 173.49 650.22C172.14 652.56 169.26 655.02 166.7 656.87C164.14 658.71 160.35 661.03 158.13 661.3C155.92 661.57 154.44 660.59 153.4 658.49C152.37 656.4 151.73 651.55 151.93 648.74Z" fill="#a9d9d4" stroke="#8fcdc6" stroke-width="0.7"/></g>
<path d="M196 664.5L230.5 664.5" fill="none" stroke="#1a1a1a" stroke-width="1.5"/>
<path d="M230.5 645.2L230.5 692.2" fill="none" stroke="#1a1a1a" stroke-width="1.5"/>
<path d="M230.5 646L243.3 646" fill="none" stroke="#1a1a1a" stroke-width="1.5"/>
<polygon points="248.8,646 242.8,649 242.8,643" fill="#1a1a1a"/>
<path d="M230.5 691.4L243.3 691.4" fill="none" stroke="#1a1a1a" stroke-width="1.5"/>
<polygon points="248.8,691.4 242.8,694.4 242.8,688.4" fill="#1a1a1a"/>
<ellipse cx="275.1" cy="645.1" rx="25.6" ry="9.7" fill="#d3ebe9" stroke="#1f6b62" stroke-width="1.5"/>
<ellipse cx="276.4" cy="692.7" rx="25.7" ry="9.6" fill="#dcefd3" stroke="#2f7a22" stroke-width="1.5"/>
<text x="275" y="648.2" font-size="9.11" text-anchor="middle" fill="#222" stroke="#222" stroke-width="0.13" textLength="20.2" lengthAdjust="spacingAndGlyphs">IL-12</text>
<text x="276.5" y="695.7" font-size="9.11" text-anchor="middle" fill="#222" stroke="#222" stroke-width="0.13" textLength="20.2" lengthAdjust="spacingAndGlyphs">IL-23</text>
<path d="M304.5 642L321 642L321 687.5L303 687.5" fill="none" stroke="#1a1a1a" stroke-width="1.5"/>
<path d="M320 663.3L334 663.3" fill="none" stroke="#1a1a1a" stroke-width="1.5"/>
<circle cx="362.5" cy="664.5" r="28.7" fill="#daf0d1" stroke="#4a9040" stroke-width="1.2"/>
<circle cx="349.6" cy="665" r="16" fill="#d9e7e5" stroke="#5a7a7a" stroke-width="1"/>
<text x="358.75" y="700.5" font-size="7.21" text-anchor="middle" fill="#222" stroke="#222" stroke-width="0.1" textLength="35" lengthAdjust="spacingAndGlyphs">CD4+T cell</text>
<polygon points="392.08,649.89 411.51,642.77 412.3,644.72 417.2,639.5 410.05,639.16 410.84,641.1 391.92,649.51" fill="#1a1a1a"/>
<polygon points="394.18,677.94 408.87,684.46 408.1,686.42 415.25,686 410.3,680.83 409.53,682.79 394.32,677.56" fill="#1a1a1a"/>
<circle cx="437.75" cy="642.5" r="15.4" fill="#d5ecea" stroke="#a5d8d3" stroke-width="1"/>
<circle cx="435.5" cy="641.75" r="8.7" fill="#aad9d5"/>
<text x="435.8" y="643.6" font-size="5.3" text-anchor="middle" font-weight="bold" fill="#f4fbfa">Th1</text>
<circle cx="434.3" cy="686.75" r="15.75" fill="#5a90a8" stroke="#4a829a" stroke-width="1"/>
<circle cx="431.75" cy="685.5" r="9" fill="#2f7590"/>
<text x="433.2" y="687.2" font-size="5.3" text-anchor="middle" font-weight="bold" fill="#ffffff">Th17</text>
<polygon points="455.4,642.65 472.2,643.05 472.2,644.75 477.2,642.5 472.2,640.25 472.2,641.95 455.4,642.35" fill="#222"/>
<polygon points="453,686.55 468.75,686.95 468.75,688.65 473.75,686.4 468.75,684.15 468.75,685.85 453,686.25" fill="#222"/>
<circle cx="486" cy="642" r="2.7" fill="#8fd3d3"/>
<circle cx="494.75" cy="638.3" r="2.7" fill="#4fb5b8"/>
<circle cx="493" cy="646.5" r="2.7" fill="#4fb5b8"/>
<circle cx="482.75" cy="686" r="2.7" fill="#4a98a5"/>
<circle cx="491.3" cy="682.5" r="2.7" fill="#0f6a7a"/>
<circle cx="489.5" cy="690.5" r="2.7" fill="#0f7080"/>
<text x="501.8" y="644.8" font-size="6.33" fill="#333" stroke="#333" stroke-width="0.09" textLength="31.5" lengthAdjust="spacingAndGlyphs">IFNγ, TNFα</text>
<text x="498" y="692.4" font-size="6.2" fill="#333" stroke="#333" stroke-width="0.09" textLength="31" lengthAdjust="spacingAndGlyphs">IL-17, IL-22</text>
<path d="M1.3 673.8L32.4 673.8" fill="none" stroke="#333" stroke-width="1"/>
<polygon points="36.4,673.8 31.9,675.8 31.9,671.8" fill="#333"/>
<path d="M1.3 690.8L36.7 690.8" fill="none" stroke="#444" stroke-width="1"/>
<path d="M36.7 686.8L36.7 694.8" fill="none" stroke="#444" stroke-width="1"/>
<text x="43.7" y="676.2" font-size="13.73" fill="#1a1a1a" stroke="#1a1a1a" stroke-width="0.2" textLength="58" lengthAdjust="spacingAndGlyphs">activation</text>
<text x="45.8" y="696" font-size="13.78" fill="#1a1a1a" stroke="#1a1a1a" stroke-width="0.2" textLength="54.4" lengthAdjust="spacingAndGlyphs">inhibition</text>
<ellipse cx="813.25" cy="96.25" rx="33.75" ry="11.5" fill="#edc9cd"/>
<text x="813.25" y="100" font-size="10.21" text-anchor="middle" fill="#222" stroke="#222" stroke-width="0.15" textLength="41" lengthAdjust="spacingAndGlyphs">mTORC1</text>
<path d="M833 154.5L813.6 109.8" fill="none" stroke="#1a1a1a" stroke-width="2"/>
<path d="M818.19 107.81L809.01 111.79" fill="none" stroke="#1a1a1a" stroke-width="2"/>
<polygon points="855.28,157.46 879.17,117.41 881.84,118.98 882.5,109.5 874.52,114.66 877.19,116.24 853.72,156.54" fill="#1a1a1a"/>
<path d="M798.75 180L798.75 165L880.4 165L880.4 204" fill="none" stroke="#1a1a1a" stroke-width="1.5"/>
<rect x="798.6" y="203" width="129.1" height="31.6" rx="15.8" fill="#efd9b9"/>
<circle cx="800.1" cy="200.4" r="22.2" fill="#f1dfb0" stroke="#95601a" stroke-width="1.5"/>
<text x="800.1" y="203.8" font-size="10.2" text-anchor="middle" fill="#1a1a1a" stroke="#1a1a1a" stroke-width="0.15" textLength="22.7" lengthAdjust="spacingAndGlyphs">Rheb</text>
<text x="863.5" y="223" font-size="15.75" text-anchor="middle" fill="#1a1a1a" stroke="#1a1a1a" stroke-width="0.23" textLength="44.9" lengthAdjust="spacingAndGlyphs">Hsp70</text>
<path d="M875.58 75.03C876.43 73.47 877.42 71.13 879.41 69.49C881.4 67.86 884.46 66.22 887.51 65.23C890.57 64.24 894.19 63.6 897.74 63.53C901.29 63.45 905.41 63.95 908.82 64.8C912.23 65.66 915.79 67.08 918.2 68.64C920.62 70.2 922.35 72.33 923.32 74.18C924.28 76.03 924.28 78.23 924 79.72C923.71 81.21 922.15 81.71 921.61 83.13C921.07 84.55 921.04 86.83 920.76 88.25C920.47 89.67 920.9 90.52 919.91 91.66C918.91 92.79 916.64 94.22 914.79 95.07C912.94 95.92 910.81 95.92 908.82 96.77C906.83 97.63 904.99 99.26 902.86 100.18C900.72 101.11 898.45 102.1 896.04 102.31C893.62 102.53 890.78 102.24 888.36 101.46C885.95 100.68 883.32 99.12 881.54 97.63C879.77 96.13 878.49 94.22 877.71 92.51C876.93 90.81 877.42 88.96 876.85 87.4C876.29 85.83 874.72 84.55 874.3 83.13C873.87 81.71 874.08 80.22 874.3 78.87C874.51 77.52 874.72 76.6 875.58 75.03Z" fill="#f6b9be" stroke="#f0a2aa" stroke-width="0.6"/>
<path d="M875.58 75.46C875.93 73.61 877.42 71.2 879.41 69.49C881.4 67.79 884.46 66.22 887.51 65.23C890.57 64.24 894.19 63.6 897.74 63.53C901.29 63.45 905.41 63.95 908.82 64.8C912.23 65.66 915.79 67.08 918.2 68.64C920.62 70.2 922.38 72.41 923.32 74.18C924.25 75.96 924.25 77.95 923.83 79.3C923.4 80.65 922.12 82 920.76 82.28C919.39 82.56 917.21 81.5 915.64 81C914.08 80.5 912.94 79.65 911.38 79.3C909.82 78.94 907.83 78.52 906.27 78.87C904.7 79.23 902.86 80.5 902 81.43C901.15 82.35 901.72 83.56 901.15 84.41C900.58 85.26 900.01 86.33 898.59 86.54C897.17 86.76 894.61 86.26 892.63 85.69C890.64 85.12 888.51 83.7 886.66 83.13C884.81 82.56 883.11 82.71 881.54 82.28C879.98 81.85 878.28 81.71 877.28 80.58C876.29 79.44 875.22 77.31 875.58 75.46Z" fill="#fbd7da" stroke="#f3aab1" stroke-width="0.5"/>
<path d="M881.54 78.02C882.18 76.81 884.81 75.82 886.66 75.46C888.51 75.11 890.78 75.18 892.63 75.89C894.47 76.6 896.32 78.3 897.74 79.72C899.16 81.14 901.01 83.25 901.15 84.41C901.29 85.58 900.01 86.57 898.59 86.71C897.17 86.86 894.47 85.93 892.63 85.26C890.78 84.6 889.14 83.13 887.51 82.71C885.88 82.28 883.82 83.49 882.82 82.71C881.83 81.93 880.9 79.23 881.54 78.02Z" fill="#fbdfe1" stroke="#f3a9a0" stroke-width="0.6"/>
<path d="M901.58 81.6C901.72 80.75 902.93 79.41 904.13 78.7C905.34 77.99 907.19 77.42 908.82 77.34C910.46 77.25 912.87 77.79 913.94 78.19C915 78.59 915.64 79.35 915.22 79.72C914.79 80.09 912.73 80.05 911.38 80.4C910.03 80.76 908.47 81.29 907.12 81.85C905.77 82.42 904.21 83.86 903.28 83.82C902.36 83.77 901.44 82.45 901.58 81.6Z" fill="#ffffff"/>
<path d="M881.12 82.28C881.61 82.99 882.61 85.41 884.1 86.54C885.59 87.68 887.79 88.6 890.07 89.1C892.34 89.6 895.75 89.6 897.74 89.53C899.73 89.46 900.87 89.46 902 88.67C903.14 87.89 904.13 85.48 904.56 84.84" fill="none" stroke="#e8484a" stroke-width="0.8"/>
<path d="M859.38 70.77L859.91 70.05L860.35 69.8L860.66 70.2L860.87 71.08L861.08 71.95L861.38 72.36L861.83 72.1L862.36 71.38L862.9 70.66L863.34 70.41L863.64 70.81L863.85 71.69L864.06 72.56L864.37 72.97L864.81 72.71L865.35 71.99L865.88 71.27L866.32 71.02L866.63 71.43L866.84 72.3L867.05 73.17L867.35 73.58L867.79 73.32L868.33 72.6L868.87 71.88L869.31 71.63L869.61 72.04L869.82 72.91L870.03 73.78L870.34 74.19L870.78 73.94L871.31 73.22L871.85 72.5L872.29 72.24L872.59 72.65L872.8 73.52L873.01 74.39L873.32 74.8L873.76 74.55L874.3 73.83L874.83 73.11L875.27 72.85L875.58 73.26L875.79 74.13L876 75L876.3 75.41L876.74 75.16L877.28 74.44" fill="none" stroke="#f5a33a" stroke-width="0.75"/>
<path d="M859.38 70.77L859.59 71.64L859.89 72.05L860.33 71.8L860.87 71.08L861.41 70.36L861.85 70.1L862.15 70.51L862.36 71.38L862.57 72.26L862.88 72.66L863.32 72.41L863.85 71.69L864.39 70.97L864.83 70.71L865.14 71.12L865.35 71.99L865.56 72.87L865.86 73.27L866.3 73.02L866.84 72.3L867.37 71.58L867.81 71.33L868.12 71.73L868.33 72.6L868.54 73.48L868.84 73.88L869.28 73.63L869.82 72.91L870.36 72.19L870.8 71.94L871.1 72.34L871.31 73.22L871.52 74.09L871.83 74.49L872.27 74.24L872.8 73.52L873.34 72.8L873.78 72.55L874.09 72.95L874.3 73.83L874.51 74.7L874.81 75.11L875.25 74.85L875.79 74.13L876.32 73.41L876.77 73.16L877.07 73.56L877.28 74.44" fill="none" stroke="#e9472f" stroke-width="0.75"/>
<path d="M901.58 83.56L901.69 82.69L901.92 82.28L902.33 82.52L902.86 83.22L903.39 83.92L903.79 84.16L904.02 83.75L904.13 82.88L904.24 82.01L904.48 81.6L904.88 81.84L905.41 82.54L905.94 83.24L906.35 83.48L906.58 83.07L906.69 82.2L906.8 81.32L907.04 80.91L907.44 81.15L907.97 81.85L908.5 82.55L908.91 82.79L909.14 82.38L909.25 81.51L909.36 80.64L909.59 80.23L910 80.47L910.53 81.17L911.06 81.87L911.46 82.11L911.7 81.7L911.81 80.83" fill="none" stroke="#f5a33a" stroke-width="0.75"/>
<path d="M901.58 83.56L902.11 84.26L902.51 84.5L902.75 84.09L902.86 83.22L902.97 82.35L903.2 81.94L903.61 82.18L904.13 82.88L904.66 83.58L905.07 83.82L905.3 83.41L905.41 82.54L905.52 81.67L905.76 81.25L906.16 81.49L906.69 82.2L907.22 82.9L907.63 83.14L907.86 82.73L907.97 81.85L908.08 80.98L908.31 80.57L908.72 80.81L909.25 81.51L909.78 82.21L910.19 82.45L910.42 82.04L910.53 81.17L910.64 80.3L910.87 79.89L911.28 80.13L911.81 80.83" fill="none" stroke="#e9472f" stroke-width="0.75"/>
<path d="M911.81 80.83L912.36 80.12L912.8 79.87L913.1 80.28L913.3 81.16L913.5 82.04L913.8 82.45L914.24 82.2L914.79 81.49L915.34 80.78L915.78 80.53L916.08 80.94L916.28 81.82L916.48 82.69L916.78 83.1L917.23 82.86L917.77 82.14L918.32 81.43L918.77 81.19L919.07 81.6L919.27 82.47L919.47 83.35L919.77 83.76L920.21 83.51L920.76 82.8L921.31 82.09L921.75 81.84L922.05 82.25L922.25 83.13L922.45 84L922.75 84.42L923.19 84.17L923.74 83.46L924.29 82.74L924.74 82.5L925.04 82.91L925.23 83.79L925.43 84.66L925.73 85.07L926.18 84.83L926.73 84.11L927.27 83.4L927.72 83.15L928.02 83.57L928.22 84.44L928.42 85.32L928.72 85.73L929.16 85.48L929.71 84.77L930.26 84.06L930.7 83.81L931 84.22L931.2 85.1L931.4 85.97L931.7 86.39L932.15 86.14L932.69 85.43L933.24 84.71L933.69 84.47L933.99 84.88L934.19 85.75L934.38 86.63L934.68 87.04L935.13 86.79L935.68 86.08L936.23 85.37L936.67 85.12L936.97 85.53L937.17 86.41L937.37 87.29L937.67 87.7L938.11 87.45L938.66 86.74L939.21 86.03L939.65 85.78L939.96 86.19L940.15 87.07L940.35 87.94L940.65 88.35L941.1 88.11L941.65 87.4" fill="none" stroke="#f5a33a" stroke-width="0.75"/>
<path d="M911.81 80.83L912.01 81.71L912.31 82.12L912.75 81.87L913.3 81.16L913.85 80.45L914.29 80.2L914.59 80.61L914.79 81.49L914.99 82.36L915.29 82.77L915.74 82.53L916.28 81.82L916.83 81.1L917.28 80.86L917.58 81.27L917.77 82.14L917.97 83.02L918.27 83.43L918.72 83.18L919.27 82.47L919.81 81.76L920.26 81.51L920.56 81.92L920.76 82.8L920.96 83.68L921.26 84.09L921.7 83.84L922.25 83.13L922.8 82.42L923.24 82.17L923.54 82.58L923.74 83.46L923.94 84.33L924.24 84.74L924.69 84.5L925.23 83.79L925.78 83.07L926.23 82.83L926.53 83.24L926.73 84.11L926.92 84.99L927.23 85.4L927.67 85.15L928.22 84.44L928.77 83.73L929.21 83.48L929.51 83.89L929.71 84.77L929.91 85.65L930.21 86.06L930.65 85.81L931.2 85.1L931.75 84.39L932.2 84.14L932.5 84.55L932.69 85.43L932.89 86.3L933.19 86.71L933.64 86.47L934.19 85.75L934.73 85.04L935.18 84.8L935.48 85.21L935.68 86.08L935.88 86.96L936.18 87.37L936.62 87.12L937.17 86.41L937.72 85.7L938.16 85.45L938.46 85.86L938.66 86.74L938.86 87.62L939.16 88.03L939.61 87.78L940.15 87.07L940.7 86.36L941.15 86.11L941.45 86.52L941.65 87.4" fill="none" stroke="#e9472f" stroke-width="0.75"/>
<path d="M901.15 90.12L912.23 88.67" fill="none" stroke="#3a4a9a" stroke-width="0.7"/>
<circle cx="924.17" cy="89.1" r="0.5" fill="#3a4a9a"/>
<circle cx="926.73" cy="90.64" r="0.5" fill="#3a4a9a"/>
<circle cx="928.86" cy="90.12" r="0.5" fill="#3a4a9a"/>
<circle cx="925.02" cy="87.82" r="0.5" fill="#3a4a9a"/>
<text x="903" y="118.9" font-size="11.28" fill="#222" stroke="#222" stroke-width="0.16" textLength="74" lengthAdjust="spacingAndGlyphs">transcription of</text>
<text x="903" y="130.6" font-size="10.76" fill="#222" stroke="#222" stroke-width="0.16" textLength="29.5" lengthAdjust="spacingAndGlyphs">Foxp3</text>
<path d="M960 83.3L1040.5 83.3L1040.5 295L977 295" fill="none" stroke="#1a1a1a" stroke-width="1.3"/>
<polygon points="971,295 977.5,291.8 977.5,298.2" fill="#1a1a1a"/>
<g transform="translate(129 -275.4)"><path d="M833.98 470.56C835.02 469.64 835.7 466.17 836.4 463.88C837.09 461.59 838.38 455.96 838.96 454.21C839.53 452.46 840.08 451.77 840.52 451.37C840.96 450.97 841.75 451.07 842.08 451.37C842.42 451.67 843.06 452.11 842.94 453.5C842.82 454.89 841.75 459.23 841.23 461.32C840.71 463.41 839.32 466.71 839.24 468.43C839.16 470.14 839.87 472.55 840.66 473.54C841.46 474.54 843.57 475.57 844.93 475.53C846.28 475.49 848.85 474.17 850.33 473.26C851.8 472.34 854.35 470.07 855.44 468.99C856.54 467.92 857.53 466.04 858.14 465.58C858.76 465.13 859.59 465.41 859.85 465.72C860.11 466.04 860.43 466.88 859.99 467.86C859.55 468.83 857.88 471.42 856.72 472.69C855.57 473.96 852.82 476.04 851.75 476.95C850.67 477.87 848.95 478.75 849.05 479.23C849.15 479.7 851.58 480.3 852.46 480.36C853.33 480.42 854.78 479.49 855.3 479.65C855.82 479.81 856.33 480.98 856.15 481.5C855.97 482.02 854.62 482.77 854.02 483.35C853.43 483.93 851.99 484.53 851.89 485.62C851.79 486.72 852.93 489.57 853.31 491.17C853.69 492.76 853.62 495.82 854.59 496.99C855.57 498.17 858.48 499.19 860.28 499.55C862.07 499.91 865.83 499.47 867.38 499.55C868.93 499.63 870.7 499.86 871.36 500.12C872.02 500.38 872.19 501.04 872.07 501.4C871.95 501.76 871.76 502.4 870.51 502.68C869.26 502.96 865.13 503.19 863.12 503.39C861.11 503.59 857.53 503.6 856.15 504.1C854.78 504.6 853.41 505.97 853.31 506.94C853.21 507.92 854.95 510.19 855.44 511.06C855.94 511.94 856.94 512.78 856.86 513.19C856.79 513.61 855.59 514.23 854.87 514.05C854.16 513.87 852.56 512.33 851.75 511.92C850.93 511.5 849.84 510.76 849.05 511.06C848.25 511.36 847.24 513.23 846.06 514.05C844.89 514.86 841.14 515.52 840.66 516.89C840.18 518.26 842.06 521.73 842.65 523.85C843.25 525.98 844.67 530.57 844.93 532.1C845.18 533.63 844.84 534.4 844.5 534.8C844.16 535.2 842.93 535.18 842.51 534.94C842.09 534.7 842.21 534.45 841.52 533.09C840.82 531.74 838.37 527.44 837.54 525.28C836.7 523.11 836.74 519.17 835.55 517.6C834.35 516.03 830.92 514.74 829.01 514.05C827.1 513.35 823.29 512.83 821.9 512.63C820.51 512.43 819.86 512.23 819.06 512.63C818.26 513.02 817.41 514.08 816.22 515.47C815.02 516.86 812.2 520.76 810.53 522.58C808.86 524.39 805.43 527.63 804.28 528.4C803.12 529.18 802.61 528.44 802.29 528.12C801.97 527.8 801.25 527.32 802 526.13C802.76 524.93 806.1 521.7 807.69 519.59C809.28 517.48 812.74 512.62 813.37 511.06C814.01 509.51 812.91 509 812.24 508.5C811.56 508.01 810.17 507.53 808.54 507.51C806.91 507.49 802.73 507.87 800.58 508.36C798.43 508.86 794.45 510.84 793.19 511.06C791.94 511.28 791.69 510.32 791.63 509.93C791.57 509.53 791.71 508.86 792.77 508.22C793.82 507.58 797.25 505.97 799.16 505.38C801.07 504.78 805.22 504.55 806.41 503.96C807.6 503.36 807.81 501.87 807.69 501.11C807.57 500.36 806.13 498.75 805.56 498.56C804.98 498.36 803.95 499.73 803.57 499.69C803.19 499.65 802.64 498.71 802.86 498.27C803.08 497.83 804.61 497.16 805.13 496.57C805.65 495.97 806.47 495.44 806.55 494.01C806.63 492.58 806.93 487.71 805.7 486.33C804.47 484.96 799.75 484.8 797.74 484.2C795.73 483.6 792.3 482.63 791.34 482.07C790.39 481.51 790.72 480.6 790.92 480.22C791.12 479.84 791.61 479.23 792.77 479.37C793.92 479.51 797.07 480.84 799.16 481.22C801.25 481.59 806.1 482.43 807.69 482.07C809.28 481.71 810.83 479.95 810.53 478.66C810.23 477.36 806.31 473.95 805.56 472.83C804.8 471.72 804.95 471.1 805.13 470.7C805.31 470.3 805.88 469.61 806.84 469.99C807.79 470.37 810.6 472.82 811.95 473.4C813.31 473.98 815.09 474.33 816.5 474.11C817.91 473.89 820.29 472.35 822.04 471.84C823.79 471.32 827.34 470.59 829.01 470.42C830.68 470.24 832.95 471.47 833.98 470.56Z" fill="#f7c6c9" stroke="#efacb2" stroke-width="0.8" stroke-linejoin="round"/><path d="M844.41 492.75C844.82 493.63 845.12 494.62 845.25 495.59C845.38 496.56 845.36 497.6 845.2 498.58C845.04 499.56 844.71 500.57 844.26 501.49C843.81 502.4 843.2 503.3 842.49 504.09C841.78 504.89 840.92 505.62 840.01 506.24C839.1 506.86 838.06 507.39 837.01 507.8C835.95 508.22 834.81 508.53 833.7 508.72C832.59 508.91 831.42 508.99 830.33 508.96C829.24 508.93 828.14 508.78 827.15 508.54C826.15 508.29 825.2 507.94 824.37 507.49C823.54 507.05 822.79 506.5 822.18 505.89C821.57 505.27 821.06 504.56 820.71 503.8C820.36 503.04 820.13 502.2 820.05 501.33C819.97 500.47 820.04 499.54 820.23 498.62C820.42 497.7 820.76 496.74 821.22 495.82C821.67 494.9 822.26 493.97 822.94 493.11C823.62 492.25 824.43 491.41 825.29 490.69C826.15 489.96 827.12 489.28 828.12 488.74C829.11 488.2 830.18 487.75 831.25 487.44C832.31 487.14 833.42 486.96 834.48 486.92C835.55 486.89 836.63 487 837.62 487.24C838.61 487.49 839.59 487.88 840.45 488.39C841.31 488.9 842.11 489.55 842.77 490.28C843.43 491 844 491.86 844.41 492.75Z" fill="#eeabb1" stroke="#e79ea6" stroke-width="0.6"/></g>
<path d="M925.73 189.62L945.01 204.41" stroke="#7d2020" stroke-width="3.8" stroke-linecap="round" fill="none"/>
<path d="M920.18 197.84L945.01 204.41" stroke="#7d2020" stroke-width="3.8" stroke-linecap="round" fill="none"/>
<path d="M925.73 189.62A5.3 5.3 0 1 1 927.74 183.42" stroke="#7d2020" stroke-width="5.7" fill="none" stroke-linecap="butt"/>
<path d="M917.74 203.89A5.3 5.3 0 1 1 920.18 197.84" stroke="#7d2020" stroke-width="5.7" fill="none" stroke-linecap="butt"/>
<path d="M925.73 189.62L945.01 204.41" stroke="#962c2c" stroke-width="2.8" stroke-linecap="round" fill="none"/>
<path d="M920.18 197.84L945.01 204.41" stroke="#962c2c" stroke-width="2.8" stroke-linecap="round" fill="none"/>
<path d="M925.91 189.49A5.3 5.3 0 1 1 927.82 183.64" stroke="#a83434" stroke-width="4.7" fill="none" stroke-linecap="butt"/>
<path d="M917.94 203.77A5.3 5.3 0 1 1 920.24 198.06" stroke="#a83434" stroke-width="4.7" fill="none" stroke-linecap="butt"/>
<circle cx="945.01" cy="204.41" r="3.05" fill="#7d2020"/>
<circle cx="943.01" cy="206.81" r="2.45" fill="#7d2020"/>
<circle cx="947.21" cy="202.81" r="2.45" fill="#7d2020"/>
<circle cx="947.41" cy="206.41" r="2.35" fill="#7d2020"/>
<circle cx="943.81" cy="202.11" r="2.25" fill="#7d2020"/>
<circle cx="945.01" cy="204.41" r="2.6" fill="#a83434"/>
<circle cx="943.01" cy="206.81" r="2" fill="#a83434"/>
<circle cx="947.21" cy="202.81" r="2" fill="#a83434"/>
<circle cx="947.41" cy="206.41" r="1.9" fill="#a83434"/>
<circle cx="943.81" cy="202.11" r="1.8" fill="#a83434"/>
<path d="M920.75 238.96L945.01 233.18" stroke="#a52e55" stroke-width="3.8" stroke-linecap="round" fill="none"/>
<path d="M927.67 249.51L945.01 233.18" stroke="#a52e55" stroke-width="3.8" stroke-linecap="round" fill="none"/>
<path d="M920.75 238.96A5.3 5.3 0 1 1 919.39 232.58" stroke="#a52e55" stroke-width="5.7" fill="none" stroke-linecap="butt"/>
<path d="M924.91 255.43A5.3 5.3 0 1 1 927.67 249.51" stroke="#a52e55" stroke-width="5.7" fill="none" stroke-linecap="butt"/>
<path d="M920.75 238.96L945.01 233.18" stroke="#c04468" stroke-width="2.8" stroke-linecap="round" fill="none"/>
<path d="M927.67 249.51L945.01 233.18" stroke="#c04468" stroke-width="2.8" stroke-linecap="round" fill="none"/>
<path d="M920.85 238.75A5.3 5.3 0 1 1 919.57 232.73" stroke="#cf4e73" stroke-width="4.7" fill="none" stroke-linecap="butt"/>
<path d="M925.12 255.32A5.3 5.3 0 1 1 927.72 249.74" stroke="#cf4e73" stroke-width="4.7" fill="none" stroke-linecap="butt"/>
<circle cx="945.01" cy="233.18" r="3.05" fill="#a52e55"/>
<circle cx="943.01" cy="235.58" r="2.45" fill="#a52e55"/>
<circle cx="947.21" cy="231.58" r="2.45" fill="#a52e55"/>
<circle cx="947.41" cy="235.18" r="2.35" fill="#a52e55"/>
<circle cx="943.81" cy="230.88" r="2.25" fill="#a52e55"/>
<circle cx="945.01" cy="233.18" r="2.6" fill="#cf4e73"/>
<circle cx="943.01" cy="235.58" r="2" fill="#cf4e73"/>
<circle cx="947.21" cy="231.58" r="2" fill="#cf4e73"/>
<circle cx="947.41" cy="235.18" r="1.9" fill="#cf4e73"/>
<circle cx="943.81" cy="230.88" r="1.8" fill="#cf4e73"/>
<text x="949.5" y="256.8" font-size="9.9" fill="#222" stroke="#222" stroke-width="0.14" textLength="82" lengthAdjust="spacingAndGlyphs">antigen-presenting</text>
<text x="949.5" y="267.2" font-size="9.66" fill="#222" stroke="#222" stroke-width="0.14" textLength="14.5" lengthAdjust="spacingAndGlyphs">cell</text>
<path d="M919.5 264.5L919.5 285.2" fill="none" stroke="#1a1a1a" stroke-width="1.5"/>
<polygon points="919.5,291.2 916.25,284.7 922.75,284.7" fill="#1a1a1a"/>
<circle cx="917.3" cy="295.4" r="2.5" fill="#e0a0a8"/>
<circle cx="908.6" cy="301" r="2.5" fill="#cc6a78"/>
<circle cx="933.9" cy="299.1" r="2.5" fill="#e0a0a8"/>
<circle cx="900.3" cy="307.1" r="2.5" fill="#e0a0a8"/>
<circle cx="919.7" cy="305.9" r="2.5" fill="#b22a3a"/>
<circle cx="929.3" cy="305.3" r="2.5" fill="#dc98a2"/>
<circle cx="911.1" cy="311.1" r="2.5" fill="#cc6a78"/>
<circle cx="917.3" cy="316.4" r="2.5" fill="#b22a3a"/>
<circle cx="925.3" cy="314.5" r="2.5" fill="#b8303f"/>
<circle cx="939.5" cy="314.5" r="2.5" fill="#d88a95"/>
<circle cx="903.1" cy="321.6" r="2.5" fill="#dc98a2"/>
<circle cx="913.9" cy="325.6" r="2.5" fill="#cc6a78"/>
<circle cx="922.5" cy="326.3" r="2.5" fill="#cc6a78"/>
<circle cx="933.9" cy="323.8" r="2.5" fill="#dc98a2"/>
<text x="942.5" y="302.6" font-size="10.21" fill="#222" stroke="#222" stroke-width="0.15" textLength="28.5" lengthAdjust="spacingAndGlyphs">TGF-β</text>
<path d="M919.4 334.9L919.4 355.9" fill="none" stroke="#1a1a1a" stroke-width="1.6"/>
<polygon points="919.4,361.9 916.15,355.4 922.65,355.4" fill="#1a1a1a"/>
<circle cx="881.8" cy="372.5" r="33.6" fill="#fadddd" stroke="#b83a3a" stroke-width="1.5"/>
<circle cx="874.1" cy="368.5" r="19" fill="#ce5050" stroke="#8a2a2a" stroke-width="1"/>
<text x="913.9" y="406.6" font-size="14.21" fill="#1a1a1a" stroke="#1a1a1a" stroke-width="0.21" textLength="33.3" lengthAdjust="spacingAndGlyphs">T cell</text>
<text x="927.4" y="369.6" font-size="11.28" fill="#222" stroke="#222" stroke-width="0.16" textLength="67.5" lengthAdjust="spacingAndGlyphs">differentiation</text>
<polygon points="929,377.25 994.3,378.05 994.3,380.4 1001.3,377 994.3,373.6 994.3,375.95 929,376.75" fill="#1a1a1a"/>
<circle cx="1041.2" cy="372.5" r="35.8" fill="#f8c7ca" stroke="#e28c93" stroke-width="1"/>
<circle cx="1035.7" cy="368.8" r="21" fill="#eeadb2" stroke="#e8a0a6" stroke-width="0.6"/>
<text x="1037.6" y="371.3" font-size="12.44" text-anchor="middle" font-weight="bold" fill="#1a1a1a" textLength="25.5" lengthAdjust="spacingAndGlyphs">Treg</text>
<polygon points="1081.3,372.3 1123.2,373.15 1123.2,377.4 1134,371.9 1123.2,366.4 1123.2,370.65 1081.3,371.5" fill="#1a1a1a"/>
<defs><radialGradient id="sph1" cx="0.38" cy="0.35" r="0.7"><stop offset="0" stop-color="#e9a0b4"/><stop offset="1" stop-color="#cf5f80"/></radialGradient><radialGradient id="sph2" cx="0.38" cy="0.35" r="0.7"><stop offset="0" stop-color="#d04468"/><stop offset="1" stop-color="#a80f38"/></radialGradient></defs>
<circle cx="1153.8" cy="371" r="6.1" fill="url(#sph1)" stroke="#b84a6c" stroke-width="0.8"/>
<circle cx="1173.2" cy="362.7" r="6.1" fill="url(#sph2)" stroke="#7a0d2a" stroke-width="0.9"/>
<circle cx="1169.2" cy="380.5" r="6.1" fill="url(#sph2)" stroke="#7a0d2a" stroke-width="0.9"/>
<circle cx="1151.6" cy="368.3" r="1" fill="#f3c0cf"/>
<circle cx="1171" cy="360" r="1" fill="#e07a96"/>
<circle cx="1167" cy="377.8" r="1" fill="#e07a96"/>
<text x="1176" y="398.8" font-size="10.82" fill="#222" stroke="#222" stroke-width="0.16" textLength="24" lengthAdjust="spacingAndGlyphs">IL-10</text>
<path d="M1077.22 458.4L1077.38 459.52L1077.17 460.62L1076.69 461.69L1076.1 462.71L1075.6 463.72L1075.32 464.76L1075.26 465.84L1075.34 466.98L1075.38 468.14L1075.24 469.26L1074.81 470.28L1074.1 471.17L1073.21 471.95L1072.31 472.69L1071.51 473.45L1070.87 474.28L1070.37 475.2L1069.9 476.16L1069.36 477.07L1068.67 477.87L1067.83 478.52L1066.91 479.09L1066.02 479.65L1065.26 480.34L1064.65 481.21L1064.17 482.27L1063.7 483.42L1063.13 484.5L1062.38 485.35L1061.41 485.88L1060.28 486.09L1059.08 486.1L1057.89 486.05L1056.8 486.14L1055.8 486.43L1054.88 486.93L1053.97 487.52L1053.02 488.04L1052.01 488.38L1050.95 488.47L1049.87 488.38L1048.81 488.24L1047.76 488.19L1046.73 488.32L1045.7 488.62L1044.64 489L1043.56 489.29L1042.48 489.37L1041.42 489.17L1040.4 488.76L1039.42 488.26L1038.43 487.85L1037.4 487.64L1036.28 487.68L1035.09 487.85L1033.86 488L1032.68 487.93L1031.63 487.53L1030.76 486.78L1030.06 485.76L1029.46 484.65L1028.87 483.59L1028.22 482.7L1027.45 481.99L1026.59 481.4L1025.73 480.8L1024.95 480.1L1024.31 479.26L1023.79 478.32L1023.32 477.36L1022.8 476.47L1022.13 475.7L1021.27 475.04L1020.3 474.43L1019.34 473.77L1018.54 472.99L1018 472.04L1017.75 470.97L1017.69 469.83L1017.66 468.71L1017.5 467.65L1017.1 466.68L1016.47 465.76L1015.73 464.83L1015.05 463.86L1014.62 462.81L1014.51 461.71L1014.73 460.59L1015.13 459.48L1015.56 458.4L1015.86 457.35L1015.97 456.3L1015.93 455.24L1015.86 454.16L1015.89 453.09L1016.1 452.05L1016.5 451.05L1016.99 450.09L1017.44 449.13L1017.71 448.11L1017.78 447.01L1017.7 445.81L1017.62 444.57L1017.7 443.36L1018.08 442.29L1018.79 441.42L1019.77 440.74L1020.87 440.18L1021.93 439.65L1022.82 439.01L1023.52 438.24L1024.09 437.33L1024.64 436.38L1025.29 435.5L1026.1 434.81L1027.08 434.33L1028.15 434.01L1029.23 433.74L1030.23 433.39L1031.12 432.89L1031.93 432.24L1032.72 431.51L1033.55 430.85L1034.48 430.36L1035.49 430.07L1036.55 429.95L1037.59 429.84L1038.59 429.61L1039.54 429.13L1040.47 428.42L1041.41 427.57L1042.41 426.78L1043.47 426.25L1044.58 426.1L1045.7 426.35L1046.79 426.87L1047.84 427.49L1048.86 428.01L1049.88 428.33L1050.93 428.45L1052 428.46L1053.08 428.51L1054.13 428.72L1055.11 429.16L1056.02 429.76L1056.9 430.41L1057.79 430.98L1058.75 431.38L1059.79 431.63L1060.9 431.81L1062 432.05L1063 432.5L1063.84 433.19L1064.5 434.09L1065.06 435.1L1065.63 436.05L1066.3 436.85L1067.16 437.47L1068.19 437.95L1069.27 438.42L1070.27 439.01L1071.05 439.8L1071.54 440.8L1071.75 441.96L1071.81 443.18L1071.87 444.35L1072.05 445.42L1072.42 446.39L1072.93 447.29L1073.47 448.19L1073.92 449.14L1074.21 450.14L1074.33 451.19L1074.39 452.24L1074.52 453.27L1074.83 454.26L1075.37 455.25L1076.06 456.26L1076.74 457.31Z" fill="#fbe0e7" stroke="#932650" stroke-width="1.35"/>
<circle cx="1043.2" cy="453.2" r="13.2" fill="#fce8ee" stroke="#a03058" stroke-width="1"/>
<circle cx="1051.25" cy="434.13" r="2.2" fill="#c9587a" stroke="#9b2c55" stroke-width="0.65"/>
<circle cx="1026.23" cy="442.35" r="2.2" fill="#c9587a" stroke="#9b2c55" stroke-width="0.65"/>
<circle cx="1067.53" cy="444.63" r="2.6" fill="#c9587a" stroke="#9b2c55" stroke-width="0.65"/>
<circle cx="1058.78" cy="444.63" r="1.3" fill="#b04868" stroke="#9b2c55" stroke-width="0.4"/>
<circle cx="1023.78" cy="463" r="2.4" fill="#c9587a" stroke="#9b2c55" stroke-width="0.65"/>
<circle cx="1067.88" cy="460.03" r="2" fill="#c9587a" stroke="#9b2c55" stroke-width="0.65"/>
<circle cx="1039" cy="470.53" r="1.5" fill="#b04868" stroke="#9b2c55" stroke-width="0.4"/>
<circle cx="1053.88" cy="478.23" r="2.2" fill="#c9587a" stroke="#9b2c55" stroke-width="0.65"/>
<circle cx="1035.5" cy="476.48" r="1.2" fill="#d888a0" stroke="#9b2c55" stroke-width="0.4"/>
<circle cx="1065.78" cy="450.75" r="1.4" fill="#e8a8bc" stroke="#9b2c55" stroke-width="0.4"/>
<circle cx="1059.13" cy="459.5" r="1.3" fill="#e8a8bc" stroke="#9b2c55" stroke-width="0.4"/>
<circle cx="1049.5" cy="482.78" r="1.3" fill="#e8a8bc" stroke="#9b2c55" stroke-width="0.4"/>
<circle cx="1046.88" cy="437.63" r="1.5" fill="#e8a8bc" stroke="#9b2c55" stroke-width="0.4"/>
<circle cx="1041.1" cy="431.85" r="0.9" fill="#b04868" stroke="#9b2c55" stroke-width="0.4"/>
<circle cx="1029.9" cy="437.1" r="0.9" fill="#b04868" stroke="#9b2c55" stroke-width="0.4"/>
<circle cx="1020.63" cy="457.4" r="0.9" fill="#b04868" stroke="#9b2c55" stroke-width="0.4"/>
<circle cx="1066.48" cy="467.9" r="1.1" fill="#c9587a" stroke="#9b2c55" stroke-width="0.4"/>
<circle cx="1072.25" cy="456.35" r="0.9" fill="#b04868" stroke="#9b2c55" stroke-width="0.4"/>
<path d="M1057.9 473.5L1080 473.5" fill="none" stroke="#7a2050" stroke-width="1"/>
<rect x="1084.5" y="466.2" width="45.5" height="19" rx="9.5" fill="#f1ddb9"/>
<path d="M1091.8 463.9A10.2 11.4 0 0 0 1091.8 486.7" fill="none" stroke="#c8932c" stroke-width="5.6" stroke-linecap="round"/>
<text x="1105.6" y="478.5" font-size="9.12" text-anchor="middle" fill="#222" stroke="#222" stroke-width="0.13" textLength="26" lengthAdjust="spacingAndGlyphs">Hsp70</text>
<path d="M1139.1 475.3L1171.5 475.3L1171.5 413" fill="none" stroke="#1a1a1a" stroke-width="1.4"/>
<polygon points="1171.5,407 1174.75,413.5 1168.25,413.5" fill="#1a1a1a"/>
<path d="M787.3 661L787.3 689.7L668.1 689.7L668.1 426.5L828.25 426.5L828.25 463" fill="none" stroke="#111" stroke-width="1.75"/>
<path d="M823.25 463L833.25 463" fill="none" stroke="#111" stroke-width="1.75"/>
<g><path d="M833.98 470.56C835.02 469.64 835.7 466.17 836.4 463.88C837.09 461.59 838.38 455.96 838.96 454.21C839.53 452.46 840.08 451.77 840.52 451.37C840.96 450.97 841.75 451.07 842.08 451.37C842.42 451.67 843.06 452.11 842.94 453.5C842.82 454.89 841.75 459.23 841.23 461.32C840.71 463.41 839.32 466.71 839.24 468.43C839.16 470.14 839.87 472.55 840.66 473.54C841.46 474.54 843.57 475.57 844.93 475.53C846.28 475.49 848.85 474.17 850.33 473.26C851.8 472.34 854.35 470.07 855.44 468.99C856.54 467.92 857.53 466.04 858.14 465.58C858.76 465.13 859.59 465.41 859.85 465.72C860.11 466.04 860.43 466.88 859.99 467.86C859.55 468.83 857.88 471.42 856.72 472.69C855.57 473.96 852.82 476.04 851.75 476.95C850.67 477.87 848.95 478.75 849.05 479.23C849.15 479.7 851.58 480.3 852.46 480.36C853.33 480.42 854.78 479.49 855.3 479.65C855.82 479.81 856.33 480.98 856.15 481.5C855.97 482.02 854.62 482.77 854.02 483.35C853.43 483.93 851.99 484.53 851.89 485.62C851.79 486.72 852.93 489.57 853.31 491.17C853.69 492.76 853.62 495.82 854.59 496.99C855.57 498.17 858.48 499.19 860.28 499.55C862.07 499.91 865.83 499.47 867.38 499.55C868.93 499.63 870.7 499.86 871.36 500.12C872.02 500.38 872.19 501.04 872.07 501.4C871.95 501.76 871.76 502.4 870.51 502.68C869.26 502.96 865.13 503.19 863.12 503.39C861.11 503.59 857.53 503.6 856.15 504.1C854.78 504.6 853.41 505.97 853.31 506.94C853.21 507.92 854.95 510.19 855.44 511.06C855.94 511.94 856.94 512.78 856.86 513.19C856.79 513.61 855.59 514.23 854.87 514.05C854.16 513.87 852.56 512.33 851.75 511.92C850.93 511.5 849.84 510.76 849.05 511.06C848.25 511.36 847.24 513.23 846.06 514.05C844.89 514.86 841.14 515.52 840.66 516.89C840.18 518.26 842.06 521.73 842.65 523.85C843.25 525.98 844.67 530.57 844.93 532.1C845.18 533.63 844.84 534.4 844.5 534.8C844.16 535.2 842.93 535.18 842.51 534.94C842.09 534.7 842.21 534.45 841.52 533.09C840.82 531.74 838.37 527.44 837.54 525.28C836.7 523.11 836.74 519.17 835.55 517.6C834.35 516.03 830.92 514.74 829.01 514.05C827.1 513.35 823.29 512.83 821.9 512.63C820.51 512.43 819.86 512.23 819.06 512.63C818.26 513.02 817.41 514.08 816.22 515.47C815.02 516.86 812.2 520.76 810.53 522.58C808.86 524.39 805.43 527.63 804.28 528.4C803.12 529.18 802.61 528.44 802.29 528.12C801.97 527.8 801.25 527.32 802 526.13C802.76 524.93 806.1 521.7 807.69 519.59C809.28 517.48 812.74 512.62 813.37 511.06C814.01 509.51 812.91 509 812.24 508.5C811.56 508.01 810.17 507.53 808.54 507.51C806.91 507.49 802.73 507.87 800.58 508.36C798.43 508.86 794.45 510.84 793.19 511.06C791.94 511.28 791.69 510.32 791.63 509.93C791.57 509.53 791.71 508.86 792.77 508.22C793.82 507.58 797.25 505.97 799.16 505.38C801.07 504.78 805.22 504.55 806.41 503.96C807.6 503.36 807.81 501.87 807.69 501.11C807.57 500.36 806.13 498.75 805.56 498.56C804.98 498.36 803.95 499.73 803.57 499.69C803.19 499.65 802.64 498.71 802.86 498.27C803.08 497.83 804.61 497.16 805.13 496.57C805.65 495.97 806.47 495.44 806.55 494.01C806.63 492.58 806.93 487.71 805.7 486.33C804.47 484.96 799.75 484.8 797.74 484.2C795.73 483.6 792.3 482.63 791.34 482.07C790.39 481.51 790.72 480.6 790.92 480.22C791.12 479.84 791.61 479.23 792.77 479.37C793.92 479.51 797.07 480.84 799.16 481.22C801.25 481.59 806.1 482.43 807.69 482.07C809.28 481.71 810.83 479.95 810.53 478.66C810.23 477.36 806.31 473.95 805.56 472.83C804.8 471.72 804.95 471.1 805.13 470.7C805.31 470.3 805.88 469.61 806.84 469.99C807.79 470.37 810.6 472.82 811.95 473.4C813.31 473.98 815.09 474.33 816.5 474.11C817.91 473.89 820.29 472.35 822.04 471.84C823.79 471.32 827.34 470.59 829.01 470.42C830.68 470.24 832.95 471.47 833.98 470.56Z" fill="#f7c6c9" stroke="#efacb2" stroke-width="0.8" stroke-linejoin="round"/><path d="M844.41 492.75C844.82 493.63 845.12 494.62 845.25 495.59C845.38 496.56 845.36 497.6 845.2 498.58C845.04 499.56 844.71 500.57 844.26 501.49C843.81 502.4 843.2 503.3 842.49 504.09C841.78 504.89 840.92 505.62 840.01 506.24C839.1 506.86 838.06 507.39 837.01 507.8C835.95 508.22 834.81 508.53 833.7 508.72C832.59 508.91 831.42 508.99 830.33 508.96C829.24 508.93 828.14 508.78 827.15 508.54C826.15 508.29 825.2 507.94 824.37 507.49C823.54 507.05 822.79 506.5 822.18 505.89C821.57 505.27 821.06 504.56 820.71 503.8C820.36 503.04 820.13 502.2 820.05 501.33C819.97 500.47 820.04 499.54 820.23 498.62C820.42 497.7 820.76 496.74 821.22 495.82C821.67 494.9 822.26 493.97 822.94 493.11C823.62 492.25 824.43 491.41 825.29 490.69C826.15 489.96 827.12 489.28 828.12 488.74C829.11 488.2 830.18 487.75 831.25 487.44C832.31 487.14 833.42 486.96 834.48 486.92C835.55 486.89 836.63 487 837.62 487.24C838.61 487.49 839.59 487.88 840.45 488.39C841.31 488.9 842.11 489.55 842.77 490.28C843.43 491 844 491.86 844.41 492.75Z" fill="#eeabb1" stroke="#e79ea6" stroke-width="0.6"/></g>
<rect x="712.3" y="482.2" width="73.4" height="29.5" rx="14.75" fill="#eed6b1"/>
<polygon points="777.6,487.2 785.6,493.4 777.6,500.2" fill="#eed6b1" stroke="#fbf3e6" stroke-width="0.9"/>
<path d="M793.5 493.2L830 493.2" fill="none" stroke="#ecb0b6" stroke-width="1.5"/>
<path d="M781.6 484L792.4 493.1L781.6 502.6" fill="none" stroke="#d5712a" stroke-width="4.1" stroke-linecap="round" stroke-linejoin="miter"/>
<text x="750.1" y="500.7" font-size="14.8" text-anchor="middle" fill="#1a1a1a" stroke="#1a1a1a" stroke-width="0.21" textLength="42.2" lengthAdjust="spacingAndGlyphs">Hsp70</text>
<text x="784.7" y="478.7" font-size="8.38" fill="#1a1a1a" stroke="#1a1a1a" stroke-width="0.12" textLength="20.7" lengthAdjust="spacingAndGlyphs">CD91</text>
<text x="825" y="528.2" font-size="12.96" text-anchor="middle" fill="#1a1a1a" stroke="#1a1a1a" stroke-width="0.19" textLength="17.5" lengthAdjust="spacingAndGlyphs">DC</text>
<path d="M784 516.5L784 564.1" fill="none" stroke="#1a1a1a" stroke-width="1.6"/>
<path d="M778.75 564.1L789.25 564.1" fill="none" stroke="#1a1a1a" stroke-width="1.6"/>
<rect x="718" y="560.6" width="61" height="30.4" rx="15.2" fill="#fce9f5" stroke="#ecb4dc" stroke-width="1.2"/>
<text x="748.4" y="579.6" font-size="10.19" text-anchor="middle" fill="#222" stroke="#222" stroke-width="0.15" textLength="27.7" lengthAdjust="spacingAndGlyphs">NF-κB</text>
<rect x="790.2" y="561.2" width="66.6" height="29.6" fill="#fdf9e8" stroke="#e2d394" stroke-width="1.5"/>
<text x="823.5" y="573.2" font-size="11.02" text-anchor="middle" fill="#222" stroke="#222" stroke-width="0.16" textLength="29.2" lengthAdjust="spacingAndGlyphs">MAPK</text>
<text x="823.5" y="585.2" font-size="10.6" text-anchor="middle" fill="#222" stroke="#222" stroke-width="0.15" textLength="39.5" lengthAdjust="spacingAndGlyphs">pathway</text>
<path d="M781.9 587L781.9 639.8" fill="none" stroke="#1a1a1a" stroke-width="1.6"/>
<path d="M776.65 639.8L787.15 639.8" fill="none" stroke="#1a1a1a" stroke-width="1.6"/>
<ellipse cx="745.9" cy="653.6" rx="35.2" ry="13.5" fill="#fdf6f1" stroke="#d4bcae" stroke-width="1.2"/>
<text x="745.8" y="657" font-size="10.2" text-anchor="middle" fill="#222" stroke="#222" stroke-width="0.15" textLength="30.8" lengthAdjust="spacingAndGlyphs">MHC-<tspan font-family="DejaVu Sans" font-size="10" stroke="none">Ⅱ</tspan></text>
<rect x="790.2" y="638.6" width="87.6" height="28.4" rx="14.2" fill="#fde9e9" stroke="#f2b4b4" stroke-width="1.2"/>
<text x="833.9" y="656.6" font-size="10.42" text-anchor="middle" fill="#222" stroke="#222" stroke-width="0.15" textLength="54.5" lengthAdjust="spacingAndGlyphs">CD80/CD86</text>
<rect x="1038.75" y="565.5" width="46.25" height="18.25" rx="9.12" fill="#eed6b1"/>
<text x="1062" y="577.8" font-size="9.3" text-anchor="middle" fill="#222" stroke="#222" stroke-width="0.13" textLength="26.5" lengthAdjust="spacingAndGlyphs">Hsp70</text>
<path d="M1062 583.75L1062 620" fill="none" stroke="#1a1a1a" stroke-width="1.5"/>
<path d="M1057 620L1067 620" fill="none" stroke="#1a1a1a" stroke-width="1.5"/>
<path d="M944.25 632L944.25 622.5L1174.5 622.5L1174.5 641.25" fill="none" stroke="#1a1a1a" stroke-width="1.5"/>
<text x="937.5" y="650.8" font-size="7.74" fill="#222" stroke="#222" stroke-width="0.11" textLength="26.3" lengthAdjust="spacingAndGlyphs">NLRP-3</text>
<path d="M924 659L930 659" fill="none" stroke="#999" stroke-width="0.8"/>
<ellipse cx="922" cy="659" rx="3.6" ry="2.5" fill="#a8323a" stroke="#8a2228" stroke-width="0.5"/>
<rect x="928.75" y="657" width="25" height="4.2" rx="2.1" fill="#e8653a" stroke="#cc4a22" stroke-width="0.4"/>
<circle cx="959.5" cy="659" r="2.5" fill="#e8962a" stroke="#d07c18" stroke-width="0.4"/>
<circle cx="964.62" cy="659" r="2.5" fill="#e8962a" stroke="#d07c18" stroke-width="0.4"/>
<circle cx="969.75" cy="659" r="2.5" fill="#e8962a" stroke="#d07c18" stroke-width="0.4"/>
<circle cx="974.88" cy="659" r="2.5" fill="#e8962a" stroke="#d07c18" stroke-width="0.4"/>
<circle cx="980" cy="659" r="2.5" fill="#e8962a" stroke="#d07c18" stroke-width="0.4"/>
<circle cx="985.12" cy="659" r="2.5" fill="#e8962a" stroke="#d07c18" stroke-width="0.4"/>
<circle cx="990.25" cy="659" r="2.5" fill="#e8962a" stroke="#d07c18" stroke-width="0.4"/>
<circle cx="995.38" cy="659" r="2.5" fill="#e8962a" stroke="#d07c18" stroke-width="0.4"/>
<circle cx="1000.5" cy="659" r="2.5" fill="#e8962a" stroke="#d07c18" stroke-width="0.4"/>
<polygon points="1010.5,662.8 1044.8,663 1044.8,666.25 1053.8,662 1044.8,657.75 1044.8,661 1010.5,661.2" fill="#1a1a1a"/>
<ellipse cx="1087.5" cy="660" rx="22.2" ry="14.1" fill="#f1d6e6" stroke="#8a2a6a" stroke-width="1.2"/>
<text x="1087.5" y="662.2" font-size="6.32" text-anchor="middle" fill="#333" stroke="#333" stroke-width="0.09" textLength="26" lengthAdjust="spacingAndGlyphs">capase-1</text>
<polygon points="1112.5,660.3 1144.5,660.9 1144.5,663.5 1152.5,660 1144.5,656.5 1144.5,659.1 1112.5,659.7" fill="#1a1a1a"/>
<circle cx="1163.75" cy="650" r="3.2" fill="#f5c0c4"/>
<circle cx="1177" cy="649.5" r="3.2" fill="#e88088"/>
<circle cx="1185" cy="651.25" r="3.2" fill="#fbe0e2"/>
<circle cx="1163.75" cy="659.25" r="3.2" fill="#e06068"/>
<circle cx="1173.25" cy="657.5" r="3.2" fill="#d8404c"/>
<circle cx="1183.25" cy="658.75" r="3.2" fill="#f5b8bc"/>
<circle cx="1166.75" cy="667.5" r="3.2" fill="#f5b8bc"/>
<circle cx="1177" cy="667" r="3.2" fill="#e87880"/>
<text x="1150" y="682" font-size="8.72" fill="#222" stroke="#222" stroke-width="0.13" textLength="41.3" lengthAdjust="spacingAndGlyphs">IL-1β,IL-18</text>
</svg>
</body></html>
